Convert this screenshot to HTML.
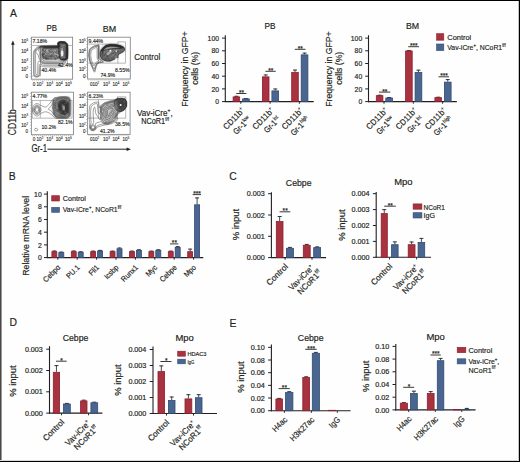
<!DOCTYPE html>
<html><head><meta charset="utf-8"><style>
html,body{margin:0;padding:0;background:#fff;}
svg{display:block;font-family:"Liberation Sans",sans-serif;}
</style></head><body>
<svg width="520" height="462" viewBox="0 0 520 462">
<rect x="0" y="0" width="520" height="462" fill="#fefefe"/>
<defs>
<filter id="b1" x="-20%" y="-20%" width="140%" height="140%"><feGaussianBlur stdDeviation="0.7"/></filter>
<filter id="b2" x="-20%" y="-20%" width="140%" height="140%"><feGaussianBlur stdDeviation="1.2"/></filter>
<filter id="b3" x="-20%" y="-20%" width="140%" height="140%"><feGaussianBlur stdDeviation="0.35"/></filter>
</defs>
<text transform="translate(10.00,17.10) translate(0.00,0) scale(0.8800,1)" font-size="11.80" fill="#231f20" stroke="#231f20" stroke-width="0.18"><tspan>A</tspan></text>
<text transform="translate(8.80,179.50) translate(0.00,0) scale(0.8800,1)" font-size="11.80" fill="#231f20" stroke="#231f20" stroke-width="0.18"><tspan>B</tspan></text>
<text transform="translate(229.20,180.30) translate(0.00,0) scale(0.8800,1)" font-size="11.80" fill="#231f20" stroke="#231f20" stroke-width="0.18"><tspan>C</tspan></text>
<text transform="translate(9.50,326.30) translate(0.00,0) scale(0.8800,1)" font-size="11.80" fill="#231f20" stroke="#231f20" stroke-width="0.18"><tspan>D</tspan></text>
<text transform="translate(229.50,326.60) translate(0.00,0) scale(0.8800,1)" font-size="11.80" fill="#231f20" stroke="#231f20" stroke-width="0.18"><tspan>E</tspan></text>
<line x1="225.30" y1="35.20" x2="225.30" y2="102.10" stroke="#231f20" stroke-width="1.1"/>
<line x1="222.00" y1="101.60" x2="225.30" y2="101.60" stroke="#231f20" stroke-width="1.0"/>
<text transform="translate(219.00,104.20) translate(-3.80,0) scale(0.9500,1)" font-size="7.20" fill="#231f20" stroke="#231f20" stroke-width="0.18"><tspan>0</tspan></text>
<line x1="222.00" y1="88.90" x2="225.30" y2="88.90" stroke="#231f20" stroke-width="1.0"/>
<text transform="translate(219.00,91.50) translate(-7.61,0) scale(0.9500,1)" font-size="7.20" fill="#231f20" stroke="#231f20" stroke-width="0.18"><tspan>20</tspan></text>
<line x1="222.00" y1="76.20" x2="225.30" y2="76.20" stroke="#231f20" stroke-width="1.0"/>
<text transform="translate(219.00,78.80) translate(-7.61,0) scale(0.9500,1)" font-size="7.20" fill="#231f20" stroke="#231f20" stroke-width="0.18"><tspan>40</tspan></text>
<line x1="222.00" y1="63.50" x2="225.30" y2="63.50" stroke="#231f20" stroke-width="1.0"/>
<text transform="translate(219.00,66.10) translate(-7.61,0) scale(0.9500,1)" font-size="7.20" fill="#231f20" stroke="#231f20" stroke-width="0.18"><tspan>60</tspan></text>
<line x1="222.00" y1="50.80" x2="225.30" y2="50.80" stroke="#231f20" stroke-width="1.0"/>
<text transform="translate(219.00,53.40) translate(-7.61,0) scale(0.9500,1)" font-size="7.20" fill="#231f20" stroke="#231f20" stroke-width="0.18"><tspan>80</tspan></text>
<line x1="222.00" y1="38.10" x2="225.30" y2="38.10" stroke="#231f20" stroke-width="1.0"/>
<text transform="translate(219.00,40.70) translate(-11.41,0) scale(0.9500,1)" font-size="7.20" fill="#231f20" stroke="#231f20" stroke-width="0.18"><tspan>100</tspan></text>
<line x1="224.80" y1="101.60" x2="313.70" y2="101.60" stroke="#231f20" stroke-width="1.1"/>
<line x1="240.80" y1="101.60" x2="240.80" y2="103.80" stroke="#231f20" stroke-width="0.9"/>
<line x1="270.10" y1="101.60" x2="270.10" y2="103.80" stroke="#231f20" stroke-width="0.9"/>
<line x1="299.40" y1="101.60" x2="299.40" y2="103.80" stroke="#231f20" stroke-width="0.9"/>
<line x1="236.40" y1="96.52" x2="236.40" y2="95.88" stroke="#333" stroke-width="0.9"/>
<line x1="234.40" y1="96.28" x2="238.40" y2="96.28" stroke="#333" stroke-width="1.0"/>
<rect x="233.10" y="96.92" width="6.60" height="4.68" fill="#a8323f" stroke="#8c1f2e" stroke-width="0.8"/>
<line x1="245.95" y1="98.49" x2="245.95" y2="98.17" stroke="#333" stroke-width="0.9"/>
<line x1="243.95" y1="98.57" x2="247.95" y2="98.57" stroke="#333" stroke-width="1.0"/>
<rect x="242.60" y="98.89" width="6.70" height="2.71" fill="#4a6690" stroke="#2f4a72" stroke-width="0.8"/>
<line x1="265.70" y1="76.45" x2="265.70" y2="74.55" stroke="#333" stroke-width="0.9"/>
<line x1="263.70" y1="74.95" x2="267.70" y2="74.95" stroke="#333" stroke-width="1.0"/>
<rect x="262.40" y="76.85" width="6.60" height="24.75" fill="#a8323f" stroke="#8c1f2e" stroke-width="0.8"/>
<line x1="275.25" y1="90.49" x2="275.25" y2="88.58" stroke="#333" stroke-width="0.9"/>
<line x1="273.25" y1="88.98" x2="277.25" y2="88.98" stroke="#333" stroke-width="1.0"/>
<rect x="271.90" y="90.89" width="6.70" height="10.71" fill="#4a6690" stroke="#2f4a72" stroke-width="0.8"/>
<line x1="295.00" y1="71.95" x2="295.00" y2="69.66" stroke="#333" stroke-width="0.9"/>
<line x1="293.00" y1="70.06" x2="297.00" y2="70.06" stroke="#333" stroke-width="1.0"/>
<rect x="291.70" y="72.35" width="6.60" height="29.25" fill="#a8323f" stroke="#8c1f2e" stroke-width="0.8"/>
<line x1="304.55" y1="54.48" x2="304.55" y2="52.71" stroke="#333" stroke-width="0.9"/>
<line x1="302.55" y1="53.11" x2="306.55" y2="53.11" stroke="#333" stroke-width="1.0"/>
<rect x="301.20" y="54.88" width="6.70" height="46.72" fill="#4a6690" stroke="#2f4a72" stroke-width="0.8"/>
<line x1="236.30" y1="93.50" x2="246.40" y2="93.50" stroke="#222" stroke-width="0.9"/>
<text transform="translate(241.55,94.90) translate(-2.53,0)" font-size="6.50" fill="#231f20" stroke="#231f20" stroke-width="0.18"><tspan>**</tspan></text>
<line x1="265.40" y1="71.30" x2="275.70" y2="71.30" stroke="#222" stroke-width="0.9"/>
<text transform="translate(270.75,72.70) translate(-2.53,0)" font-size="6.50" fill="#231f20" stroke="#231f20" stroke-width="0.18"><tspan>**</tspan></text>
<line x1="294.80" y1="49.30" x2="305.50" y2="49.30" stroke="#222" stroke-width="0.9"/>
<text transform="translate(300.35,50.70) translate(-2.53,0)" font-size="6.50" fill="#231f20" stroke="#231f20" stroke-width="0.18"><tspan>**</tspan></text>
<text transform="translate(270.00,29.40) translate(-5.52,0) scale(0.9200,1)" font-size="9.00" fill="#231f20" stroke="#231f20" stroke-width="0.18"><tspan>PB</tspan></text>
<text transform="translate(245.20,111.20) rotate(-45) translate(-26.57,0) scale(0.9300,1)" font-size="8.40" fill="#231f20" stroke="#231f20" stroke-width="0.18"><tspan>CD11b</tspan><tspan font-size="5.21" dy="-3.53">+</tspan></text>
<text transform="translate(251.50,120.00) rotate(-45) translate(-21.17,0) scale(0.8600,1)" font-size="8.40" fill="#231f20" stroke="#231f20" stroke-width="0.18"><tspan>Gr-1</tspan><tspan font-size="5.21" dy="-3.53">low</tspan></text>
<text transform="translate(274.50,111.20) rotate(-45) translate(-26.57,0) scale(0.9300,1)" font-size="8.40" fill="#231f20" stroke="#231f20" stroke-width="0.18"><tspan>CD11b</tspan><tspan font-size="5.21" dy="-3.53">+</tspan></text>
<text transform="translate(280.80,120.00) rotate(-45) translate(-19.18,0) scale(0.8600,1)" font-size="8.40" fill="#231f20" stroke="#231f20" stroke-width="0.18"><tspan>Gr-1</tspan><tspan font-size="5.21" dy="-3.53">int</tspan></text>
<text transform="translate(303.80,111.20) rotate(-45) translate(-26.57,0) scale(0.9300,1)" font-size="8.40" fill="#231f20" stroke="#231f20" stroke-width="0.18"><tspan>CD11b</tspan><tspan font-size="5.21" dy="-3.53">+</tspan></text>
<text transform="translate(310.10,120.00) rotate(-45) translate(-22.91,0) scale(0.8600,1)" font-size="8.40" fill="#231f20" stroke="#231f20" stroke-width="0.18"><tspan>Gr-1</tspan><tspan font-size="5.21" dy="-3.53">high</tspan></text>
<line x1="368.50" y1="35.20" x2="368.50" y2="102.10" stroke="#231f20" stroke-width="1.1"/>
<line x1="365.20" y1="101.60" x2="368.50" y2="101.60" stroke="#231f20" stroke-width="1.0"/>
<text transform="translate(362.20,104.20) translate(-3.80,0) scale(0.9500,1)" font-size="7.20" fill="#231f20" stroke="#231f20" stroke-width="0.18"><tspan>0</tspan></text>
<line x1="365.20" y1="88.90" x2="368.50" y2="88.90" stroke="#231f20" stroke-width="1.0"/>
<text transform="translate(362.20,91.50) translate(-7.61,0) scale(0.9500,1)" font-size="7.20" fill="#231f20" stroke="#231f20" stroke-width="0.18"><tspan>20</tspan></text>
<line x1="365.20" y1="76.20" x2="368.50" y2="76.20" stroke="#231f20" stroke-width="1.0"/>
<text transform="translate(362.20,78.80) translate(-7.61,0) scale(0.9500,1)" font-size="7.20" fill="#231f20" stroke="#231f20" stroke-width="0.18"><tspan>40</tspan></text>
<line x1="365.20" y1="63.50" x2="368.50" y2="63.50" stroke="#231f20" stroke-width="1.0"/>
<text transform="translate(362.20,66.10) translate(-7.61,0) scale(0.9500,1)" font-size="7.20" fill="#231f20" stroke="#231f20" stroke-width="0.18"><tspan>60</tspan></text>
<line x1="365.20" y1="50.80" x2="368.50" y2="50.80" stroke="#231f20" stroke-width="1.0"/>
<text transform="translate(362.20,53.40) translate(-7.61,0) scale(0.9500,1)" font-size="7.20" fill="#231f20" stroke="#231f20" stroke-width="0.18"><tspan>80</tspan></text>
<line x1="365.20" y1="38.10" x2="368.50" y2="38.10" stroke="#231f20" stroke-width="1.0"/>
<text transform="translate(362.20,40.70) translate(-11.41,0) scale(0.9500,1)" font-size="7.20" fill="#231f20" stroke="#231f20" stroke-width="0.18"><tspan>100</tspan></text>
<line x1="368.00" y1="101.60" x2="456.90" y2="101.60" stroke="#231f20" stroke-width="1.1"/>
<line x1="384.00" y1="101.60" x2="384.00" y2="103.80" stroke="#231f20" stroke-width="0.9"/>
<line x1="413.30" y1="101.60" x2="413.30" y2="103.80" stroke="#231f20" stroke-width="0.9"/>
<line x1="442.60" y1="101.60" x2="442.60" y2="103.80" stroke="#231f20" stroke-width="0.9"/>
<line x1="379.60" y1="95.25" x2="379.60" y2="94.81" stroke="#333" stroke-width="0.9"/>
<line x1="377.60" y1="95.21" x2="381.60" y2="95.21" stroke="#333" stroke-width="1.0"/>
<rect x="376.30" y="95.65" width="6.60" height="5.95" fill="#a8323f" stroke="#8c1f2e" stroke-width="0.8"/>
<line x1="389.15" y1="97.60" x2="389.15" y2="97.09" stroke="#333" stroke-width="0.9"/>
<line x1="387.15" y1="97.49" x2="391.15" y2="97.49" stroke="#333" stroke-width="1.0"/>
<rect x="385.80" y="98.00" width="6.70" height="3.60" fill="#4a6690" stroke="#2f4a72" stroke-width="0.8"/>
<line x1="408.90" y1="50.55" x2="408.90" y2="50.23" stroke="#333" stroke-width="0.9"/>
<line x1="406.90" y1="50.63" x2="410.90" y2="50.63" stroke="#333" stroke-width="1.0"/>
<rect x="405.60" y="50.95" width="6.60" height="50.65" fill="#a8323f" stroke="#8c1f2e" stroke-width="0.8"/>
<line x1="418.45" y1="72.01" x2="418.45" y2="69.79" stroke="#333" stroke-width="0.9"/>
<line x1="416.45" y1="70.19" x2="420.45" y2="70.19" stroke="#333" stroke-width="1.0"/>
<rect x="415.10" y="72.41" width="6.70" height="29.19" fill="#4a6690" stroke="#2f4a72" stroke-width="0.8"/>
<line x1="438.20" y1="97.22" x2="438.20" y2="96.84" stroke="#333" stroke-width="0.9"/>
<line x1="436.20" y1="97.24" x2="440.20" y2="97.24" stroke="#333" stroke-width="1.0"/>
<rect x="434.90" y="97.62" width="6.60" height="3.98" fill="#a8323f" stroke="#8c1f2e" stroke-width="0.8"/>
<line x1="447.75" y1="81.72" x2="447.75" y2="79.18" stroke="#333" stroke-width="0.9"/>
<line x1="445.75" y1="79.58" x2="449.75" y2="79.58" stroke="#333" stroke-width="1.0"/>
<rect x="444.40" y="82.12" width="6.70" height="19.48" fill="#4a6690" stroke="#2f4a72" stroke-width="0.8"/>
<line x1="379.00" y1="92.10" x2="390.30" y2="92.10" stroke="#222" stroke-width="0.9"/>
<text transform="translate(384.85,93.50) translate(-2.53,0)" font-size="6.50" fill="#231f20" stroke="#231f20" stroke-width="0.18"><tspan>**</tspan></text>
<line x1="408.20" y1="46.70" x2="419.00" y2="46.70" stroke="#222" stroke-width="0.9"/>
<text transform="translate(413.80,48.10) translate(-3.79,0)" font-size="6.50" fill="#231f20" stroke="#231f20" stroke-width="0.18"><tspan>***</tspan></text>
<line x1="438.50" y1="76.80" x2="449.00" y2="76.80" stroke="#222" stroke-width="0.9"/>
<text transform="translate(443.95,78.20) translate(-3.79,0)" font-size="6.50" fill="#231f20" stroke="#231f20" stroke-width="0.18"><tspan>***</tspan></text>
<text transform="translate(412.50,29.40) translate(-6.60,0) scale(0.9778,1)" font-size="9.00" fill="#231f20" stroke="#231f20" stroke-width="0.18"><tspan>BM</tspan></text>
<text transform="translate(388.40,111.20) rotate(-45) translate(-26.57,0) scale(0.9300,1)" font-size="8.40" fill="#231f20" stroke="#231f20" stroke-width="0.18"><tspan>CD11b</tspan><tspan font-size="5.21" dy="-3.53">+</tspan></text>
<text transform="translate(394.70,120.00) rotate(-45) translate(-21.17,0) scale(0.8600,1)" font-size="8.40" fill="#231f20" stroke="#231f20" stroke-width="0.18"><tspan>Gr-1</tspan><tspan font-size="5.21" dy="-3.53">low</tspan></text>
<text transform="translate(417.70,111.20) rotate(-45) translate(-26.57,0) scale(0.9300,1)" font-size="8.40" fill="#231f20" stroke="#231f20" stroke-width="0.18"><tspan>CD11b</tspan><tspan font-size="5.21" dy="-3.53">+</tspan></text>
<text transform="translate(424.00,120.00) rotate(-45) translate(-19.18,0) scale(0.8600,1)" font-size="8.40" fill="#231f20" stroke="#231f20" stroke-width="0.18"><tspan>Gr-1</tspan><tspan font-size="5.21" dy="-3.53">int</tspan></text>
<text transform="translate(447.00,111.20) rotate(-45) translate(-26.57,0) scale(0.9300,1)" font-size="8.40" fill="#231f20" stroke="#231f20" stroke-width="0.18"><tspan>CD11b</tspan><tspan font-size="5.21" dy="-3.53">+</tspan></text>
<text transform="translate(453.30,120.00) rotate(-45) translate(-22.91,0) scale(0.8600,1)" font-size="8.40" fill="#231f20" stroke="#231f20" stroke-width="0.18"><tspan>Gr-1</tspan><tspan font-size="5.21" dy="-3.53">high</tspan></text>
<text transform="translate(187.90,69.00) rotate(-90) translate(-37.75,0) scale(0.9137,1)" font-size="9.50" fill="#231f20" stroke="#231f20" stroke-width="0.18"><tspan>Frequency in GFP+</tspan></text>
<text transform="translate(198.30,68.30) rotate(-90) translate(-16.50,0) scale(0.9062,1)" font-size="9.50" fill="#231f20" stroke="#231f20" stroke-width="0.18"><tspan>cells (%)</tspan></text>
<text transform="translate(331.60,69.00) rotate(-90) translate(-37.75,0) scale(0.9137,1)" font-size="9.50" fill="#231f20" stroke="#231f20" stroke-width="0.18"><tspan>Frequency in GFP+</tspan></text>
<text transform="translate(342.20,68.30) rotate(-90) translate(-16.50,0) scale(0.9062,1)" font-size="9.50" fill="#231f20" stroke="#231f20" stroke-width="0.18"><tspan>cells (%)</tspan></text>
<rect x="436.60" y="33.70" width="7.20" height="6.50" fill="#a8323f" stroke="#8c1f2e" stroke-width="0.6"/>
<rect x="436.60" y="44.00" width="7.20" height="6.60" fill="#4a6690" stroke="#2f4a72" stroke-width="0.6"/>
<text transform="translate(447.30,39.80) translate(0.00,0) scale(0.9307,1)" font-size="8.00" fill="#231f20" stroke="#231f20" stroke-width="0.18"><tspan>Control</tspan></text>
<text transform="translate(447.30,50.20) translate(0.00,0) scale(0.8574,1)" font-size="8.00" fill="#231f20" stroke="#231f20" stroke-width="0.18"><tspan>Vav-iCre</tspan><tspan font-size="4.96" dy="-3.36">+</tspan><tspan dy="3.36">, NCoR1</tspan><tspan font-size="4.96" dy="-3.36">f/f</tspan></text>
<line x1="47.30" y1="191.20" x2="47.30" y2="258.10" stroke="#231f20" stroke-width="1.1"/>
<line x1="44.00" y1="257.60" x2="47.30" y2="257.60" stroke="#231f20" stroke-width="1.0"/>
<text transform="translate(41.70,260.20) translate(-3.80,0) scale(0.9500,1)" font-size="7.20" fill="#231f20" stroke="#231f20" stroke-width="0.18"><tspan>0</tspan></text>
<line x1="44.00" y1="244.90" x2="47.30" y2="244.90" stroke="#231f20" stroke-width="1.0"/>
<text transform="translate(41.70,247.50) translate(-3.80,0) scale(0.9500,1)" font-size="7.20" fill="#231f20" stroke="#231f20" stroke-width="0.18"><tspan>2</tspan></text>
<line x1="44.00" y1="232.20" x2="47.30" y2="232.20" stroke="#231f20" stroke-width="1.0"/>
<text transform="translate(41.70,234.80) translate(-3.80,0) scale(0.9500,1)" font-size="7.20" fill="#231f20" stroke="#231f20" stroke-width="0.18"><tspan>4</tspan></text>
<line x1="44.00" y1="219.50" x2="47.30" y2="219.50" stroke="#231f20" stroke-width="1.0"/>
<text transform="translate(41.70,222.10) translate(-3.80,0) scale(0.9500,1)" font-size="7.20" fill="#231f20" stroke="#231f20" stroke-width="0.18"><tspan>6</tspan></text>
<line x1="44.00" y1="206.80" x2="47.30" y2="206.80" stroke="#231f20" stroke-width="1.0"/>
<text transform="translate(41.70,209.40) translate(-3.80,0) scale(0.9500,1)" font-size="7.20" fill="#231f20" stroke="#231f20" stroke-width="0.18"><tspan>8</tspan></text>
<line x1="44.00" y1="194.10" x2="47.30" y2="194.10" stroke="#231f20" stroke-width="1.0"/>
<text transform="translate(41.70,196.70) translate(-7.61,0) scale(0.9500,1)" font-size="7.20" fill="#231f20" stroke="#231f20" stroke-width="0.18"><tspan>10</tspan></text>
<line x1="46.80" y1="257.60" x2="203.30" y2="257.60" stroke="#231f20" stroke-width="1.1"/>
<line x1="57.80" y1="257.60" x2="57.80" y2="259.80" stroke="#231f20" stroke-width="0.9"/>
<line x1="77.20" y1="257.60" x2="77.20" y2="259.80" stroke="#231f20" stroke-width="0.9"/>
<line x1="96.60" y1="257.60" x2="96.60" y2="259.80" stroke="#231f20" stroke-width="0.9"/>
<line x1="116.00" y1="257.60" x2="116.00" y2="259.80" stroke="#231f20" stroke-width="0.9"/>
<line x1="135.40" y1="257.60" x2="135.40" y2="259.80" stroke="#231f20" stroke-width="0.9"/>
<line x1="154.80" y1="257.60" x2="154.80" y2="259.80" stroke="#231f20" stroke-width="0.9"/>
<line x1="174.20" y1="257.60" x2="174.20" y2="259.80" stroke="#231f20" stroke-width="0.9"/>
<line x1="193.60" y1="257.60" x2="193.60" y2="259.80" stroke="#231f20" stroke-width="0.9"/>
<line x1="54.35" y1="251.25" x2="54.35" y2="250.62" stroke="#333" stroke-width="0.9"/>
<line x1="52.35" y1="251.02" x2="56.35" y2="251.02" stroke="#333" stroke-width="1.0"/>
<rect x="51.90" y="251.65" width="4.90" height="5.95" fill="#a8323f" stroke="#8c1f2e" stroke-width="0.8"/>
<line x1="61.30" y1="252.20" x2="61.30" y2="251.69" stroke="#333" stroke-width="0.9"/>
<line x1="59.30" y1="252.09" x2="63.30" y2="252.09" stroke="#333" stroke-width="1.0"/>
<rect x="58.80" y="252.60" width="5.00" height="5.00" fill="#4a6690" stroke="#2f4a72" stroke-width="0.8"/>
<line x1="73.75" y1="251.25" x2="73.75" y2="250.62" stroke="#333" stroke-width="0.9"/>
<line x1="71.75" y1="251.02" x2="75.75" y2="251.02" stroke="#333" stroke-width="1.0"/>
<rect x="71.30" y="251.65" width="4.90" height="5.95" fill="#a8323f" stroke="#8c1f2e" stroke-width="0.8"/>
<line x1="80.70" y1="251.89" x2="80.70" y2="251.38" stroke="#333" stroke-width="0.9"/>
<line x1="78.70" y1="251.78" x2="82.70" y2="251.78" stroke="#333" stroke-width="1.0"/>
<rect x="78.20" y="252.29" width="5.00" height="5.32" fill="#4a6690" stroke="#2f4a72" stroke-width="0.8"/>
<line x1="93.15" y1="251.25" x2="93.15" y2="250.74" stroke="#333" stroke-width="0.9"/>
<line x1="91.15" y1="251.14" x2="95.15" y2="251.14" stroke="#333" stroke-width="1.0"/>
<rect x="90.70" y="251.65" width="4.90" height="5.95" fill="#a8323f" stroke="#8c1f2e" stroke-width="0.8"/>
<line x1="100.10" y1="250.62" x2="100.10" y2="249.98" stroke="#333" stroke-width="0.9"/>
<line x1="98.10" y1="250.38" x2="102.10" y2="250.38" stroke="#333" stroke-width="1.0"/>
<rect x="97.60" y="251.02" width="5.00" height="6.59" fill="#4a6690" stroke="#2f4a72" stroke-width="0.8"/>
<line x1="112.55" y1="251.25" x2="112.55" y2="250.74" stroke="#333" stroke-width="0.9"/>
<line x1="110.55" y1="251.14" x2="114.55" y2="251.14" stroke="#333" stroke-width="1.0"/>
<rect x="110.10" y="251.65" width="4.90" height="5.95" fill="#a8323f" stroke="#8c1f2e" stroke-width="0.8"/>
<line x1="119.50" y1="248.39" x2="119.50" y2="247.63" stroke="#333" stroke-width="0.9"/>
<line x1="117.50" y1="248.03" x2="121.50" y2="248.03" stroke="#333" stroke-width="1.0"/>
<rect x="117.00" y="248.79" width="5.00" height="8.81" fill="#4a6690" stroke="#2f4a72" stroke-width="0.8"/>
<line x1="131.95" y1="251.25" x2="131.95" y2="250.74" stroke="#333" stroke-width="0.9"/>
<line x1="129.95" y1="251.14" x2="133.95" y2="251.14" stroke="#333" stroke-width="1.0"/>
<rect x="129.50" y="251.65" width="4.90" height="5.95" fill="#a8323f" stroke="#8c1f2e" stroke-width="0.8"/>
<line x1="138.90" y1="249.98" x2="138.90" y2="249.35" stroke="#333" stroke-width="0.9"/>
<line x1="136.90" y1="249.75" x2="140.90" y2="249.75" stroke="#333" stroke-width="1.0"/>
<rect x="136.40" y="250.38" width="5.00" height="7.22" fill="#4a6690" stroke="#2f4a72" stroke-width="0.8"/>
<line x1="151.35" y1="251.25" x2="151.35" y2="250.74" stroke="#333" stroke-width="0.9"/>
<line x1="149.35" y1="251.14" x2="153.35" y2="251.14" stroke="#333" stroke-width="1.0"/>
<rect x="148.90" y="251.65" width="4.90" height="5.95" fill="#a8323f" stroke="#8c1f2e" stroke-width="0.8"/>
<line x1="158.30" y1="249.98" x2="158.30" y2="249.35" stroke="#333" stroke-width="0.9"/>
<line x1="156.30" y1="249.75" x2="160.30" y2="249.75" stroke="#333" stroke-width="1.0"/>
<rect x="155.80" y="250.38" width="5.00" height="7.22" fill="#4a6690" stroke="#2f4a72" stroke-width="0.8"/>
<line x1="170.75" y1="251.25" x2="170.75" y2="250.74" stroke="#333" stroke-width="0.9"/>
<line x1="168.75" y1="251.14" x2="172.75" y2="251.14" stroke="#333" stroke-width="1.0"/>
<rect x="168.30" y="251.65" width="4.90" height="5.95" fill="#a8323f" stroke="#8c1f2e" stroke-width="0.8"/>
<line x1="177.70" y1="247.00" x2="177.70" y2="246.23" stroke="#333" stroke-width="0.9"/>
<line x1="175.70" y1="246.63" x2="179.70" y2="246.63" stroke="#333" stroke-width="1.0"/>
<rect x="175.20" y="247.40" width="5.00" height="10.20" fill="#4a6690" stroke="#2f4a72" stroke-width="0.8"/>
<line x1="190.15" y1="251.25" x2="190.15" y2="248.71" stroke="#333" stroke-width="0.9"/>
<line x1="188.15" y1="249.11" x2="192.15" y2="249.11" stroke="#333" stroke-width="1.0"/>
<rect x="187.70" y="251.65" width="4.90" height="5.95" fill="#a8323f" stroke="#8c1f2e" stroke-width="0.8"/>
<line x1="197.10" y1="204.39" x2="197.10" y2="197.53" stroke="#333" stroke-width="0.9"/>
<line x1="195.10" y1="197.93" x2="199.10" y2="197.93" stroke="#333" stroke-width="1.0"/>
<rect x="194.60" y="204.79" width="5.00" height="52.81" fill="#4a6690" stroke="#2f4a72" stroke-width="0.8"/>
<line x1="170.00" y1="243.90" x2="178.40" y2="243.90" stroke="#222" stroke-width="0.9"/>
<text transform="translate(174.40,245.30) translate(-2.53,0)" font-size="6.50" fill="#231f20" stroke="#231f20" stroke-width="0.18"><tspan>**</tspan></text>
<line x1="192.70" y1="194.60" x2="201.00" y2="194.60" stroke="#222" stroke-width="0.9"/>
<text transform="translate(197.05,196.00) translate(-3.79,0)" font-size="6.50" fill="#231f20" stroke="#231f20" stroke-width="0.18"><tspan>***</tspan></text>
<text transform="translate(29.00,235.80) rotate(-90) translate(-40.00,0) scale(0.9541,1)" font-size="9.20" fill="#231f20" stroke="#231f20" stroke-width="0.18"><tspan>Relative mRNA level</tspan></text>
<rect x="51.70" y="195.70" width="7.80" height="5.30" fill="#a8323f" stroke="#8c1f2e" stroke-width="0.6"/>
<rect x="51.70" y="207.40" width="7.80" height="4.90" fill="#4a6690" stroke="#2f4a72" stroke-width="0.6"/>
<text transform="translate(62.80,201.00) translate(0.00,0) scale(0.8997,1)" font-size="8.00" fill="#231f20" stroke="#231f20" stroke-width="0.18"><tspan>Control</tspan></text>
<text transform="translate(62.80,212.40) translate(0.00,0) scale(0.8574,1)" font-size="8.00" fill="#231f20" stroke="#231f20" stroke-width="0.18"><tspan>Vav-iCre</tspan><tspan font-size="4.96" dy="-3.36">+</tspan><tspan dy="3.36">, NCoR1</tspan><tspan font-size="4.96" dy="-3.36">f/f</tspan></text>
<text transform="translate(60.80,268.00) rotate(-45) translate(-20.76,0) scale(0.9200,1)" font-size="7.60" fill="#231f20" stroke="#231f20" stroke-width="0.18"><tspan>Cebpα</tspan></text>
<text transform="translate(80.20,268.00) rotate(-45) translate(-15.54,0) scale(0.9200,1)" font-size="7.60" fill="#231f20" stroke="#231f20" stroke-width="0.18"><tspan>PU.1</tspan></text>
<text transform="translate(99.60,268.00) rotate(-45) translate(-11.27,0) scale(0.9200,1)" font-size="7.60" fill="#231f20" stroke="#231f20" stroke-width="0.18"><tspan>Fli1</tspan></text>
<text transform="translate(119.00,268.00) rotate(-45) translate(-16.71,0) scale(0.9200,1)" font-size="7.60" fill="#231f20" stroke="#231f20" stroke-width="0.18"><tspan>Icsbp</tspan></text>
<text transform="translate(138.40,268.00) rotate(-45) translate(-20.21,0) scale(0.9200,1)" font-size="7.60" fill="#231f20" stroke="#231f20" stroke-width="0.18"><tspan>Runx1</tspan></text>
<text transform="translate(157.80,268.00) rotate(-45) translate(-12.82,0) scale(0.9200,1)" font-size="7.60" fill="#231f20" stroke="#231f20" stroke-width="0.18"><tspan>Myc</tspan></text>
<text transform="translate(177.20,268.00) rotate(-45) translate(-20.60,0) scale(0.9200,1)" font-size="7.60" fill="#231f20" stroke="#231f20" stroke-width="0.18"><tspan>Cebpe</tspan></text>
<text transform="translate(196.60,268.00) rotate(-45) translate(-13.60,0) scale(0.9200,1)" font-size="7.60" fill="#231f20" stroke="#231f20" stroke-width="0.18"><tspan>Mpo</tspan></text>
<line x1="271.40" y1="192.30" x2="271.40" y2="258.10" stroke="#231f20" stroke-width="1.1"/>
<line x1="268.10" y1="257.60" x2="271.40" y2="257.60" stroke="#231f20" stroke-width="1.0"/>
<text transform="translate(264.80,260.20) translate(-18.02,0)" font-size="7.20" fill="#231f20" stroke="#231f20" stroke-width="0.18"><tspan>0.000</tspan></text>
<line x1="268.10" y1="236.30" x2="271.40" y2="236.30" stroke="#231f20" stroke-width="1.0"/>
<text transform="translate(264.80,238.90) translate(-18.02,0)" font-size="7.20" fill="#231f20" stroke="#231f20" stroke-width="0.18"><tspan>0.001</tspan></text>
<line x1="268.10" y1="215.00" x2="271.40" y2="215.00" stroke="#231f20" stroke-width="1.0"/>
<text transform="translate(264.80,217.60) translate(-18.02,0)" font-size="7.20" fill="#231f20" stroke="#231f20" stroke-width="0.18"><tspan>0.002</tspan></text>
<line x1="268.10" y1="193.70" x2="271.40" y2="193.70" stroke="#231f20" stroke-width="1.0"/>
<text transform="translate(264.80,196.30) translate(-18.02,0)" font-size="7.20" fill="#231f20" stroke="#231f20" stroke-width="0.18"><tspan>0.003</tspan></text>
<line x1="270.90" y1="257.60" x2="326.10" y2="257.60" stroke="#231f20" stroke-width="1.1"/>
<line x1="285.10" y1="257.60" x2="285.10" y2="259.80" stroke="#231f20" stroke-width="0.9"/>
<line x1="312.00" y1="257.60" x2="312.00" y2="259.80" stroke="#231f20" stroke-width="0.9"/>
<line x1="279.65" y1="221.10" x2="279.65" y2="216.10" stroke="#333" stroke-width="0.9"/>
<line x1="277.65" y1="216.50" x2="281.65" y2="216.50" stroke="#333" stroke-width="1.0"/>
<rect x="276.30" y="221.50" width="6.70" height="36.10" fill="#a8323f" stroke="#8c1f2e" stroke-width="0.8"/>
<line x1="289.90" y1="247.90" x2="289.90" y2="247.00" stroke="#333" stroke-width="0.9"/>
<line x1="287.90" y1="247.40" x2="291.90" y2="247.40" stroke="#333" stroke-width="1.0"/>
<rect x="286.40" y="248.30" width="7.00" height="9.30" fill="#4a6690" stroke="#2f4a72" stroke-width="0.8"/>
<line x1="306.75" y1="244.90" x2="306.75" y2="244.00" stroke="#333" stroke-width="0.9"/>
<line x1="304.75" y1="244.40" x2="308.75" y2="244.40" stroke="#333" stroke-width="1.0"/>
<rect x="303.30" y="245.30" width="6.90" height="12.30" fill="#a8323f" stroke="#8c1f2e" stroke-width="0.8"/>
<line x1="317.15" y1="247.20" x2="317.15" y2="246.50" stroke="#333" stroke-width="0.9"/>
<line x1="315.15" y1="246.90" x2="319.15" y2="246.90" stroke="#333" stroke-width="1.0"/>
<rect x="313.70" y="247.60" width="6.90" height="10.00" fill="#4a6690" stroke="#2f4a72" stroke-width="0.8"/>
<line x1="279.60" y1="211.80" x2="290.30" y2="211.80" stroke="#222" stroke-width="0.9"/>
<text transform="translate(285.15,213.20) translate(-2.53,0)" font-size="6.50" fill="#231f20" stroke="#231f20" stroke-width="0.18"><tspan>**</tspan></text>
<text transform="translate(298.70,185.60) translate(-12.86,0) scale(0.9700,1)" font-size="9.00" fill="#231f20" stroke="#231f20" stroke-width="0.18"><tspan>Cebpe</tspan></text>
<text transform="translate(238.80,224.50) rotate(-90) translate(-15.75,0) scale(1.0155,1)" font-size="9.30" fill="#231f20" stroke="#231f20" stroke-width="0.18"><tspan>% input</tspan></text>
<text transform="translate(288.50,267.20) rotate(-45) translate(-26.54,0) scale(0.9800,1)" font-size="8.40" fill="#231f20" stroke="#231f20" stroke-width="0.18"><tspan>Control</tspan></text>
<text transform="translate(314.40,268.50) rotate(-45) translate(-31.58,0) scale(0.9000,1)" font-size="8.40" fill="#231f20" stroke="#231f20" stroke-width="0.18"><tspan>Vav-iCre</tspan><tspan font-size="5.21" dy="-3.53">+</tspan></text>
<text transform="translate(322.20,273.50) rotate(-45) translate(-30.29,0) scale(0.9500,1)" font-size="8.40" fill="#231f20" stroke="#231f20" stroke-width="0.18"><tspan>NCoR1</tspan><tspan font-size="5.21" dy="-3.53">f/f</tspan></text>
<line x1="376.20" y1="191.90" x2="376.20" y2="257.80" stroke="#231f20" stroke-width="1.1"/>
<line x1="372.90" y1="257.30" x2="376.20" y2="257.30" stroke="#231f20" stroke-width="1.0"/>
<text transform="translate(369.60,259.90) translate(-18.02,0)" font-size="7.20" fill="#231f20" stroke="#231f20" stroke-width="0.18"><tspan>0.000</tspan></text>
<line x1="372.90" y1="241.40" x2="376.20" y2="241.40" stroke="#231f20" stroke-width="1.0"/>
<text transform="translate(369.60,244.00) translate(-18.02,0)" font-size="7.20" fill="#231f20" stroke="#231f20" stroke-width="0.18"><tspan>0.001</tspan></text>
<line x1="372.90" y1="225.50" x2="376.20" y2="225.50" stroke="#231f20" stroke-width="1.0"/>
<text transform="translate(369.60,228.10) translate(-18.02,0)" font-size="7.20" fill="#231f20" stroke="#231f20" stroke-width="0.18"><tspan>0.002</tspan></text>
<line x1="372.90" y1="209.60" x2="376.20" y2="209.60" stroke="#231f20" stroke-width="1.0"/>
<text transform="translate(369.60,212.20) translate(-18.02,0)" font-size="7.20" fill="#231f20" stroke="#231f20" stroke-width="0.18"><tspan>0.003</tspan></text>
<line x1="372.90" y1="193.70" x2="376.20" y2="193.70" stroke="#231f20" stroke-width="1.0"/>
<text transform="translate(369.60,196.30) translate(-18.02,0)" font-size="7.20" fill="#231f20" stroke="#231f20" stroke-width="0.18"><tspan>0.004</tspan></text>
<line x1="375.70" y1="257.30" x2="431.00" y2="257.30" stroke="#231f20" stroke-width="1.1"/>
<line x1="389.50" y1="257.30" x2="389.50" y2="259.50" stroke="#231f20" stroke-width="0.9"/>
<line x1="416.60" y1="257.30" x2="416.60" y2="259.50" stroke="#231f20" stroke-width="0.9"/>
<line x1="384.25" y1="213.20" x2="384.25" y2="209.20" stroke="#333" stroke-width="0.9"/>
<line x1="382.25" y1="209.60" x2="386.25" y2="209.60" stroke="#333" stroke-width="1.0"/>
<rect x="381.20" y="213.60" width="6.10" height="43.70" fill="#a8323f" stroke="#8c1f2e" stroke-width="0.8"/>
<line x1="394.85" y1="244.30" x2="394.85" y2="241.50" stroke="#333" stroke-width="0.9"/>
<line x1="392.85" y1="241.90" x2="396.85" y2="241.90" stroke="#333" stroke-width="1.0"/>
<rect x="391.60" y="244.70" width="6.50" height="12.60" fill="#4a6690" stroke="#2f4a72" stroke-width="0.8"/>
<line x1="411.60" y1="244.30" x2="411.60" y2="241.60" stroke="#333" stroke-width="0.9"/>
<line x1="409.60" y1="242.00" x2="413.60" y2="242.00" stroke="#333" stroke-width="1.0"/>
<rect x="408.20" y="244.70" width="6.80" height="12.60" fill="#a8323f" stroke="#8c1f2e" stroke-width="0.8"/>
<line x1="421.40" y1="242.00" x2="421.40" y2="238.00" stroke="#333" stroke-width="0.9"/>
<line x1="419.40" y1="238.40" x2="423.40" y2="238.40" stroke="#333" stroke-width="1.0"/>
<rect x="418.10" y="242.40" width="6.60" height="14.90" fill="#4a6690" stroke="#2f4a72" stroke-width="0.8"/>
<line x1="384.20" y1="206.20" x2="395.80" y2="206.20" stroke="#222" stroke-width="0.9"/>
<text transform="translate(390.20,207.60) translate(-2.53,0)" font-size="6.50" fill="#231f20" stroke="#231f20" stroke-width="0.18"><tspan>**</tspan></text>
<text transform="translate(403.40,185.00) translate(-9.20,0) scale(1.0510,1)" font-size="9.00" fill="#231f20" stroke="#231f20" stroke-width="0.18"><tspan>Mpo</tspan></text>
<text transform="translate(344.60,225.00) rotate(-90) translate(-15.75,0) scale(1.0155,1)" font-size="9.30" fill="#231f20" stroke="#231f20" stroke-width="0.18"><tspan>% input</tspan></text>
<text transform="translate(392.90,266.90) rotate(-45) translate(-26.54,0) scale(0.9800,1)" font-size="8.40" fill="#231f20" stroke="#231f20" stroke-width="0.18"><tspan>Control</tspan></text>
<text transform="translate(419.00,268.20) rotate(-45) translate(-31.58,0) scale(0.9000,1)" font-size="8.40" fill="#231f20" stroke="#231f20" stroke-width="0.18"><tspan>Vav-iCre</tspan><tspan font-size="5.21" dy="-3.53">+</tspan></text>
<text transform="translate(426.80,273.20) rotate(-45) translate(-30.29,0) scale(0.9500,1)" font-size="8.40" fill="#231f20" stroke="#231f20" stroke-width="0.18"><tspan>NCoR1</tspan><tspan font-size="5.21" dy="-3.53">f/f</tspan></text>
<rect x="413.10" y="203.90" width="8.80" height="5.30" fill="#a8323f" stroke="#8c1f2e" stroke-width="0.6"/>
<rect x="413.10" y="212.70" width="8.80" height="5.30" fill="#4a6690" stroke="#2f4a72" stroke-width="0.6"/>
<text transform="translate(423.50,209.50) translate(0.00,0) scale(0.9065,1)" font-size="7.20" fill="#231f20" stroke="#231f20" stroke-width="0.18"><tspan>NCoR1</tspan></text>
<text transform="translate(423.50,218.20) translate(0.00,0) scale(0.9910,1)" font-size="7.20" fill="#231f20" stroke="#231f20" stroke-width="0.18"><tspan>IgG</tspan></text>
<line x1="49.50" y1="346.20" x2="49.50" y2="413.60" stroke="#231f20" stroke-width="1.1"/>
<line x1="46.20" y1="413.10" x2="49.50" y2="413.10" stroke="#231f20" stroke-width="1.0"/>
<text transform="translate(42.90,415.70) translate(-18.02,0)" font-size="7.20" fill="#231f20" stroke="#231f20" stroke-width="0.18"><tspan>0.000</tspan></text>
<line x1="46.20" y1="391.80" x2="49.50" y2="391.80" stroke="#231f20" stroke-width="1.0"/>
<text transform="translate(42.90,394.40) translate(-18.02,0)" font-size="7.20" fill="#231f20" stroke="#231f20" stroke-width="0.18"><tspan>0.001</tspan></text>
<line x1="46.20" y1="370.50" x2="49.50" y2="370.50" stroke="#231f20" stroke-width="1.0"/>
<text transform="translate(42.90,373.10) translate(-18.02,0)" font-size="7.20" fill="#231f20" stroke="#231f20" stroke-width="0.18"><tspan>0.002</tspan></text>
<line x1="46.20" y1="349.20" x2="49.50" y2="349.20" stroke="#231f20" stroke-width="1.0"/>
<text transform="translate(42.90,351.80) translate(-18.02,0)" font-size="7.20" fill="#231f20" stroke="#231f20" stroke-width="0.18"><tspan>0.003</tspan></text>
<line x1="49.00" y1="413.10" x2="102.40" y2="413.10" stroke="#231f20" stroke-width="1.1"/>
<line x1="61.50" y1="413.10" x2="61.50" y2="415.30" stroke="#231f20" stroke-width="0.9"/>
<line x1="88.50" y1="413.10" x2="88.50" y2="415.30" stroke="#231f20" stroke-width="0.9"/>
<line x1="56.45" y1="371.90" x2="56.45" y2="365.20" stroke="#333" stroke-width="0.9"/>
<line x1="54.45" y1="365.60" x2="58.45" y2="365.60" stroke="#333" stroke-width="1.0"/>
<rect x="53.30" y="372.30" width="6.30" height="40.80" fill="#a8323f" stroke="#8c1f2e" stroke-width="0.8"/>
<line x1="66.90" y1="403.60" x2="66.90" y2="403.00" stroke="#333" stroke-width="0.9"/>
<line x1="64.90" y1="403.40" x2="68.90" y2="403.40" stroke="#333" stroke-width="1.0"/>
<rect x="63.50" y="404.00" width="6.80" height="9.10" fill="#4a6690" stroke="#2f4a72" stroke-width="0.8"/>
<line x1="83.80" y1="400.50" x2="83.80" y2="399.80" stroke="#333" stroke-width="0.9"/>
<line x1="81.80" y1="400.20" x2="85.80" y2="400.20" stroke="#333" stroke-width="1.0"/>
<rect x="80.60" y="400.90" width="6.40" height="12.20" fill="#a8323f" stroke="#8c1f2e" stroke-width="0.8"/>
<line x1="94.30" y1="402.40" x2="94.30" y2="401.80" stroke="#333" stroke-width="0.9"/>
<line x1="92.30" y1="402.20" x2="96.30" y2="402.20" stroke="#333" stroke-width="1.0"/>
<rect x="90.90" y="402.80" width="6.80" height="10.30" fill="#4a6690" stroke="#2f4a72" stroke-width="0.8"/>
<line x1="56.00" y1="361.20" x2="66.70" y2="361.20" stroke="#222" stroke-width="0.9"/>
<text transform="translate(61.55,362.60) translate(-1.26,0)" font-size="6.50" fill="#231f20" stroke="#231f20" stroke-width="0.18"><tspan>*</tspan></text>
<text transform="translate(75.50,341.00) translate(-12.86,0) scale(0.9700,1)" font-size="9.00" fill="#231f20" stroke="#231f20" stroke-width="0.18"><tspan>Cebpe</tspan></text>
<text transform="translate(16.30,381.00) rotate(-90) translate(-15.75,0) scale(1.0155,1)" font-size="9.30" fill="#231f20" stroke="#231f20" stroke-width="0.18"><tspan>% input</tspan></text>
<text transform="translate(64.90,422.70) rotate(-45) translate(-26.54,0) scale(0.9800,1)" font-size="8.40" fill="#231f20" stroke="#231f20" stroke-width="0.18"><tspan>Control</tspan></text>
<text transform="translate(90.90,424.00) rotate(-45) translate(-31.58,0) scale(0.9000,1)" font-size="8.40" fill="#231f20" stroke="#231f20" stroke-width="0.18"><tspan>Vav-iCre</tspan><tspan font-size="5.21" dy="-3.53">+</tspan></text>
<text transform="translate(98.70,429.00) rotate(-45) translate(-30.29,0) scale(0.9500,1)" font-size="8.40" fill="#231f20" stroke="#231f20" stroke-width="0.18"><tspan>NCoR1</tspan><tspan font-size="5.21" dy="-3.53">f/f</tspan></text>
<line x1="153.00" y1="346.50" x2="153.00" y2="414.00" stroke="#231f20" stroke-width="1.1"/>
<line x1="149.70" y1="413.50" x2="153.00" y2="413.50" stroke="#231f20" stroke-width="1.0"/>
<text transform="translate(146.40,416.10) translate(-18.02,0)" font-size="7.20" fill="#231f20" stroke="#231f20" stroke-width="0.18"><tspan>0.000</tspan></text>
<line x1="149.70" y1="397.50" x2="153.00" y2="397.50" stroke="#231f20" stroke-width="1.0"/>
<text transform="translate(146.40,400.10) translate(-18.02,0)" font-size="7.20" fill="#231f20" stroke="#231f20" stroke-width="0.18"><tspan>0.001</tspan></text>
<line x1="149.70" y1="381.50" x2="153.00" y2="381.50" stroke="#231f20" stroke-width="1.0"/>
<text transform="translate(146.40,384.10) translate(-18.02,0)" font-size="7.20" fill="#231f20" stroke="#231f20" stroke-width="0.18"><tspan>0.002</tspan></text>
<line x1="149.70" y1="365.50" x2="153.00" y2="365.50" stroke="#231f20" stroke-width="1.0"/>
<text transform="translate(146.40,368.10) translate(-18.02,0)" font-size="7.20" fill="#231f20" stroke="#231f20" stroke-width="0.18"><tspan>0.003</tspan></text>
<line x1="149.70" y1="349.50" x2="153.00" y2="349.50" stroke="#231f20" stroke-width="1.0"/>
<text transform="translate(146.40,352.10) translate(-18.02,0)" font-size="7.20" fill="#231f20" stroke="#231f20" stroke-width="0.18"><tspan>0.004</tspan></text>
<line x1="152.50" y1="413.50" x2="217.00" y2="413.50" stroke="#231f20" stroke-width="1.1"/>
<line x1="166.50" y1="413.50" x2="166.50" y2="415.70" stroke="#231f20" stroke-width="0.9"/>
<line x1="193.50" y1="413.50" x2="193.50" y2="415.70" stroke="#231f20" stroke-width="0.9"/>
<line x1="161.30" y1="371.20" x2="161.30" y2="365.50" stroke="#333" stroke-width="0.9"/>
<line x1="159.30" y1="365.90" x2="163.30" y2="365.90" stroke="#333" stroke-width="1.0"/>
<rect x="158.00" y="371.60" width="6.60" height="41.90" fill="#a8323f" stroke="#8c1f2e" stroke-width="0.8"/>
<line x1="171.70" y1="400.10" x2="171.70" y2="396.60" stroke="#333" stroke-width="0.9"/>
<line x1="169.70" y1="397.00" x2="173.70" y2="397.00" stroke="#333" stroke-width="1.0"/>
<rect x="168.40" y="400.50" width="6.60" height="13.00" fill="#4a6690" stroke="#2f4a72" stroke-width="0.8"/>
<line x1="188.40" y1="398.50" x2="188.40" y2="394.30" stroke="#333" stroke-width="0.9"/>
<line x1="186.40" y1="394.70" x2="190.40" y2="394.70" stroke="#333" stroke-width="1.0"/>
<rect x="185.00" y="398.90" width="6.80" height="14.60" fill="#a8323f" stroke="#8c1f2e" stroke-width="0.8"/>
<line x1="198.70" y1="397.30" x2="198.70" y2="394.30" stroke="#333" stroke-width="0.9"/>
<line x1="196.70" y1="394.70" x2="200.70" y2="394.70" stroke="#333" stroke-width="1.0"/>
<rect x="195.40" y="397.70" width="6.60" height="15.80" fill="#4a6690" stroke="#2f4a72" stroke-width="0.8"/>
<line x1="160.40" y1="361.50" x2="171.50" y2="361.50" stroke="#222" stroke-width="0.9"/>
<text transform="translate(166.15,362.90) translate(-1.26,0)" font-size="6.50" fill="#231f20" stroke="#231f20" stroke-width="0.18"><tspan>*</tspan></text>
<text transform="translate(184.60,340.60) translate(-9.20,0) scale(1.0510,1)" font-size="9.00" fill="#231f20" stroke="#231f20" stroke-width="0.18"><tspan>Mpo</tspan></text>
<text transform="translate(120.80,380.00) rotate(-90) translate(-15.75,0) scale(1.0155,1)" font-size="9.30" fill="#231f20" stroke="#231f20" stroke-width="0.18"><tspan>% input</tspan></text>
<text transform="translate(169.90,423.10) rotate(-45) translate(-26.54,0) scale(0.9800,1)" font-size="8.40" fill="#231f20" stroke="#231f20" stroke-width="0.18"><tspan>Control</tspan></text>
<text transform="translate(195.90,424.40) rotate(-45) translate(-31.58,0) scale(0.9000,1)" font-size="8.40" fill="#231f20" stroke="#231f20" stroke-width="0.18"><tspan>Vav-iCre</tspan><tspan font-size="5.21" dy="-3.53">+</tspan></text>
<text transform="translate(203.70,429.40) rotate(-45) translate(-30.29,0) scale(0.9500,1)" font-size="8.40" fill="#231f20" stroke="#231f20" stroke-width="0.18"><tspan>NCoR1</tspan><tspan font-size="5.21" dy="-3.53">f/f</tspan></text>
<rect x="177.70" y="351.20" width="7.60" height="5.00" fill="#a8323f" stroke="#8c1f2e" stroke-width="0.6"/>
<rect x="177.70" y="359.20" width="7.60" height="4.60" fill="#4a6690" stroke="#2f4a72" stroke-width="0.6"/>
<text transform="translate(187.40,356.30) translate(0.00,0) scale(0.9041,1)" font-size="6.20" fill="#231f20" stroke="#231f20" stroke-width="0.18"><tspan>HDAC3</tspan></text>
<text transform="translate(187.40,364.00) translate(0.00,0) scale(0.7005,1)" font-size="6.20" fill="#231f20" stroke="#231f20" stroke-width="0.18"><tspan>IgG</tspan></text>
<line x1="271.40" y1="344.50" x2="271.40" y2="411.20" stroke="#231f20" stroke-width="1.1"/>
<line x1="268.10" y1="410.70" x2="271.40" y2="410.70" stroke="#231f20" stroke-width="1.0"/>
<text transform="translate(264.80,413.30) translate(-14.01,0)" font-size="7.20" fill="#231f20" stroke="#231f20" stroke-width="0.18"><tspan>0.00</tspan></text>
<line x1="268.10" y1="398.03" x2="271.40" y2="398.03" stroke="#231f20" stroke-width="1.0"/>
<text transform="translate(264.80,400.63) translate(-14.01,0)" font-size="7.20" fill="#231f20" stroke="#231f20" stroke-width="0.18"><tspan>0.02</tspan></text>
<line x1="268.10" y1="385.36" x2="271.40" y2="385.36" stroke="#231f20" stroke-width="1.0"/>
<text transform="translate(264.80,387.96) translate(-14.01,0)" font-size="7.20" fill="#231f20" stroke="#231f20" stroke-width="0.18"><tspan>0.04</tspan></text>
<line x1="268.10" y1="372.69" x2="271.40" y2="372.69" stroke="#231f20" stroke-width="1.0"/>
<text transform="translate(264.80,375.29) translate(-14.01,0)" font-size="7.20" fill="#231f20" stroke="#231f20" stroke-width="0.18"><tspan>0.06</tspan></text>
<line x1="268.10" y1="360.02" x2="271.40" y2="360.02" stroke="#231f20" stroke-width="1.0"/>
<text transform="translate(264.80,362.62) translate(-14.01,0)" font-size="7.20" fill="#231f20" stroke="#231f20" stroke-width="0.18"><tspan>0.08</tspan></text>
<line x1="268.10" y1="347.35" x2="271.40" y2="347.35" stroke="#231f20" stroke-width="1.0"/>
<text transform="translate(264.80,349.95) translate(-14.01,0)" font-size="7.20" fill="#231f20" stroke="#231f20" stroke-width="0.18"><tspan>0.10</tspan></text>
<line x1="270.90" y1="410.70" x2="350.60" y2="410.70" stroke="#231f20" stroke-width="1.1"/>
<line x1="284.40" y1="410.70" x2="284.40" y2="412.90" stroke="#231f20" stroke-width="0.9"/>
<line x1="311.40" y1="410.70" x2="311.40" y2="412.90" stroke="#231f20" stroke-width="0.9"/>
<line x1="337.30" y1="410.70" x2="337.30" y2="412.90" stroke="#231f20" stroke-width="0.9"/>
<line x1="279.20" y1="398.60" x2="279.20" y2="398.00" stroke="#333" stroke-width="0.9"/>
<line x1="277.20" y1="398.40" x2="281.20" y2="398.40" stroke="#333" stroke-width="1.0"/>
<rect x="275.90" y="399.00" width="6.60" height="11.70" fill="#a8323f" stroke="#8c1f2e" stroke-width="0.8"/>
<line x1="289.25" y1="392.10" x2="289.25" y2="391.30" stroke="#333" stroke-width="0.9"/>
<line x1="287.25" y1="391.70" x2="291.25" y2="391.70" stroke="#333" stroke-width="1.0"/>
<rect x="285.60" y="392.50" width="7.30" height="18.20" fill="#4a6690" stroke="#2f4a72" stroke-width="0.8"/>
<line x1="306.20" y1="377.10" x2="306.20" y2="376.40" stroke="#333" stroke-width="0.9"/>
<line x1="304.20" y1="376.80" x2="308.20" y2="376.80" stroke="#333" stroke-width="1.0"/>
<rect x="302.80" y="377.50" width="6.80" height="33.20" fill="#a8323f" stroke="#8c1f2e" stroke-width="0.8"/>
<line x1="315.85" y1="352.90" x2="315.85" y2="352.00" stroke="#333" stroke-width="0.9"/>
<line x1="313.85" y1="352.40" x2="317.85" y2="352.40" stroke="#333" stroke-width="1.0"/>
<rect x="312.30" y="353.30" width="7.10" height="57.40" fill="#4a6690" stroke="#2f4a72" stroke-width="0.8"/>
<rect x="328.60" y="410.30" width="7.00" height="0.40" fill="#a8323f" stroke="#8c1f2e" stroke-width="0.8"/>
<line x1="278.60" y1="388.60" x2="289.80" y2="388.60" stroke="#222" stroke-width="0.9"/>
<text transform="translate(284.40,390.00) translate(-2.53,0)" font-size="6.50" fill="#231f20" stroke="#231f20" stroke-width="0.18"><tspan>**</tspan></text>
<line x1="305.20" y1="349.30" x2="316.70" y2="349.30" stroke="#222" stroke-width="0.9"/>
<text transform="translate(311.15,350.70) translate(-3.79,0)" font-size="6.50" fill="#231f20" stroke="#231f20" stroke-width="0.18"><tspan>***</tspan></text>
<text transform="translate(310.70,340.90) translate(-12.86,0) scale(0.9700,1)" font-size="9.00" fill="#231f20" stroke="#231f20" stroke-width="0.18"><tspan>Cebpe</tspan></text>
<text transform="translate(244.10,377.00) rotate(-90) translate(-15.75,0) scale(1.0155,1)" font-size="9.30" fill="#231f20" stroke="#231f20" stroke-width="0.18"><tspan>% input</tspan></text>
<text transform="translate(287.80,420.30) rotate(-45) translate(-17.26,0) scale(0.8800,1)" font-size="8.40" fill="#231f20" stroke="#231f20" stroke-width="0.18"><tspan>H4ac</tspan></text>
<text transform="translate(314.80,420.30) rotate(-45) translate(-30.41,0) scale(0.8800,1)" font-size="8.40" fill="#231f20" stroke="#231f20" stroke-width="0.18"><tspan>H3K27ac</tspan></text>
<text transform="translate(340.70,420.30) rotate(-45) translate(-11.91,0) scale(0.8800,1)" font-size="8.40" fill="#231f20" stroke="#231f20" stroke-width="0.18"><tspan>IgG</tspan></text>
<line x1="395.80" y1="343.90" x2="395.80" y2="410.40" stroke="#231f20" stroke-width="1.1"/>
<line x1="392.50" y1="409.90" x2="395.80" y2="409.90" stroke="#231f20" stroke-width="1.0"/>
<text transform="translate(389.20,412.50) translate(-14.01,0)" font-size="7.20" fill="#231f20" stroke="#231f20" stroke-width="0.18"><tspan>0.00</tspan></text>
<line x1="392.50" y1="397.20" x2="395.80" y2="397.20" stroke="#231f20" stroke-width="1.0"/>
<text transform="translate(389.20,399.80) translate(-14.01,0)" font-size="7.20" fill="#231f20" stroke="#231f20" stroke-width="0.18"><tspan>0.02</tspan></text>
<line x1="392.50" y1="384.50" x2="395.80" y2="384.50" stroke="#231f20" stroke-width="1.0"/>
<text transform="translate(389.20,387.10) translate(-14.01,0)" font-size="7.20" fill="#231f20" stroke="#231f20" stroke-width="0.18"><tspan>0.04</tspan></text>
<line x1="392.50" y1="371.80" x2="395.80" y2="371.80" stroke="#231f20" stroke-width="1.0"/>
<text transform="translate(389.20,374.40) translate(-14.01,0)" font-size="7.20" fill="#231f20" stroke="#231f20" stroke-width="0.18"><tspan>0.06</tspan></text>
<line x1="392.50" y1="359.10" x2="395.80" y2="359.10" stroke="#231f20" stroke-width="1.0"/>
<text transform="translate(389.20,361.70) translate(-14.01,0)" font-size="7.20" fill="#231f20" stroke="#231f20" stroke-width="0.18"><tspan>0.08</tspan></text>
<line x1="392.50" y1="346.40" x2="395.80" y2="346.40" stroke="#231f20" stroke-width="1.0"/>
<text transform="translate(389.20,349.00) translate(-14.01,0)" font-size="7.20" fill="#231f20" stroke="#231f20" stroke-width="0.18"><tspan>0.10</tspan></text>
<line x1="395.30" y1="409.90" x2="475.60" y2="409.90" stroke="#231f20" stroke-width="1.1"/>
<line x1="408.70" y1="409.90" x2="408.70" y2="412.10" stroke="#231f20" stroke-width="0.9"/>
<line x1="435.30" y1="409.90" x2="435.30" y2="412.10" stroke="#231f20" stroke-width="0.9"/>
<line x1="461.80" y1="409.90" x2="461.80" y2="412.10" stroke="#231f20" stroke-width="0.9"/>
<line x1="403.85" y1="402.80" x2="403.85" y2="402.20" stroke="#333" stroke-width="0.9"/>
<line x1="401.85" y1="402.60" x2="405.85" y2="402.60" stroke="#333" stroke-width="1.0"/>
<rect x="400.30" y="403.20" width="7.10" height="6.70" fill="#a8323f" stroke="#8c1f2e" stroke-width="0.8"/>
<line x1="413.90" y1="393.10" x2="413.90" y2="390.80" stroke="#333" stroke-width="0.9"/>
<line x1="411.90" y1="391.20" x2="415.90" y2="391.20" stroke="#333" stroke-width="1.0"/>
<rect x="410.50" y="393.50" width="6.80" height="16.40" fill="#4a6690" stroke="#2f4a72" stroke-width="0.8"/>
<line x1="430.70" y1="393.10" x2="430.70" y2="391.20" stroke="#333" stroke-width="0.9"/>
<line x1="428.70" y1="391.60" x2="432.70" y2="391.60" stroke="#333" stroke-width="1.0"/>
<rect x="427.30" y="393.50" width="6.80" height="16.40" fill="#a8323f" stroke="#8c1f2e" stroke-width="0.8"/>
<line x1="440.55" y1="360.30" x2="440.55" y2="358.00" stroke="#333" stroke-width="0.9"/>
<line x1="438.55" y1="358.40" x2="442.55" y2="358.40" stroke="#333" stroke-width="1.0"/>
<rect x="437.30" y="360.70" width="6.50" height="49.20" fill="#4a6690" stroke="#2f4a72" stroke-width="0.8"/>
<rect x="453.30" y="409.40" width="7.30" height="0.50" fill="#a8323f" stroke="#8c1f2e" stroke-width="0.8"/>
<rect x="463.40" y="409.40" width="6.70" height="0.50" fill="#4a6690" stroke="#2f4a72" stroke-width="0.8"/>
<line x1="403.20" y1="387.30" x2="414.20" y2="387.30" stroke="#222" stroke-width="0.9"/>
<text transform="translate(408.90,388.70) translate(-1.26,0)" font-size="6.50" fill="#231f20" stroke="#231f20" stroke-width="0.18"><tspan>*</tspan></text>
<line x1="430.40" y1="355.00" x2="440.80" y2="355.00" stroke="#222" stroke-width="0.9"/>
<text transform="translate(435.80,356.40) translate(-3.79,0)" font-size="6.50" fill="#231f20" stroke="#231f20" stroke-width="0.18"><tspan>***</tspan></text>
<text transform="translate(435.70,340.30) translate(-9.20,0) scale(1.0510,1)" font-size="9.00" fill="#231f20" stroke="#231f20" stroke-width="0.18"><tspan>Mpo</tspan></text>
<text transform="translate(368.80,376.30) rotate(-90) translate(-15.75,0) scale(1.0155,1)" font-size="9.30" fill="#231f20" stroke="#231f20" stroke-width="0.18"><tspan>% input</tspan></text>
<text transform="translate(412.10,419.50) rotate(-45) translate(-17.26,0) scale(0.8800,1)" font-size="8.40" fill="#231f20" stroke="#231f20" stroke-width="0.18"><tspan>H4ac</tspan></text>
<text transform="translate(438.70,419.50) rotate(-45) translate(-30.41,0) scale(0.8800,1)" font-size="8.40" fill="#231f20" stroke="#231f20" stroke-width="0.18"><tspan>H3K27ac</tspan></text>
<text transform="translate(465.20,419.50) rotate(-45) translate(-11.91,0) scale(0.8800,1)" font-size="8.40" fill="#231f20" stroke="#231f20" stroke-width="0.18"><tspan>IgG</tspan></text>
<line x1="464.80" y1="408.40" x2="468.80" y2="408.40" stroke="#222" stroke-width="1.0"/>
<rect x="457.20" y="347.30" width="8.60" height="5.40" fill="#a8323f" stroke="#8c1f2e" stroke-width="0.6"/>
<rect x="457.20" y="358.80" width="8.60" height="5.10" fill="#4a6690" stroke="#2f4a72" stroke-width="0.6"/>
<text transform="translate(468.50,352.80) translate(0.00,0) scale(0.9229,1)" font-size="8.00" fill="#231f20" stroke="#231f20" stroke-width="0.18"><tspan>Control</tspan></text>
<text transform="translate(468.50,364.20) translate(0.00,0) scale(0.8613,1)" font-size="8.00" fill="#231f20" stroke="#231f20" stroke-width="0.18"><tspan>Vav-iCre</tspan><tspan font-size="4.96" dy="-3.36">+</tspan><tspan dy="3.36">,</tspan></text>
<text transform="translate(468.50,372.80) translate(0.00,0) scale(0.8859,1)" font-size="8.00" fill="#231f20" stroke="#231f20" stroke-width="0.18"><tspan>NCoR1</tspan><tspan font-size="4.96" dy="-3.36">f/f</tspan></text>
<line x1="32.2" y1="45.5" x2="72.0" y2="45.5" stroke="#9a9a9a" stroke-width="0.7"/>
<line x1="40.5" y1="45.5" x2="40.5" y2="76.0" stroke="#9a9a9a" stroke-width="0.7"/>
<line x1="32.2" y1="76.0" x2="40.5" y2="76.0" stroke="#9a9a9a" stroke-width="0.7"/>
<line x1="67.5" y1="45.5" x2="67.5" y2="64.0" stroke="#9a9a9a" stroke-width="0.7"/>
<line x1="88.3" y1="44.1" x2="117.9" y2="44.1" stroke="#9a9a9a" stroke-width="0.7"/>
<line x1="98.4" y1="44.1" x2="98.4" y2="63.1" stroke="#9a9a9a" stroke-width="0.7"/>
<line x1="88.3" y1="63.1" x2="117.9" y2="63.1" stroke="#9a9a9a" stroke-width="0.7"/>
<rect x="117.9" y="41.9" width="7.6" height="21.2" fill="none" stroke="#9a9a9a" stroke-width="0.7"/>
<rect x="32.2" y="100.3" width="39.8" height="17.8" fill="none" stroke="#9a9a9a" stroke-width="0.7"/>
<line x1="40.3" y1="100.3" x2="40.3" y2="118.1" stroke="#9a9a9a" stroke-width="0.7"/>
<line x1="88.3" y1="99.6" x2="117.4" y2="99.6" stroke="#9a9a9a" stroke-width="0.7"/>
<line x1="98.4" y1="99.6" x2="98.4" y2="118.1" stroke="#9a9a9a" stroke-width="0.7"/>
<line x1="88.3" y1="118.1" x2="117.4" y2="118.1" stroke="#9a9a9a" stroke-width="0.7"/>
<rect x="117.4" y="96.9" width="8.4" height="21.2" fill="none" stroke="#9a9a9a" stroke-width="0.7"/>
<g filter="url(#b2)">
<path d="M58.3,43 C61,42 65,42 66.8,44 C67.8,48 67.8,55 67,58.6 C65,60 61.5,60 59.5,58 C58.5,54 58.2,48 58.3,43 Z" fill="#999"/>
<path d="M42,48.5 C48,47 54,46.5 60,46 L60,58.8 C53,59.8 47,60 42,59.8 Z" fill="#a8a8a8"/>
<path d="M42,48.4 C48,47.3 54,46.9 59.5,46.5" fill="none" stroke="#222" stroke-width="1.5"/>
<path d="M102.8,48 L106,45.5 L110.2,44.6 L115,44.8 L120.6,45.8 L123.8,47.3 L124.9,49.2 L123.8,51.5 L121.8,52.6 L118.5,54.2 L116.3,56 L114.5,58 L113.2,59.7 L110.5,61 L108.3,61.2 L104.5,60.6 L101.5,59 L100.2,56 L100.3,52 L101.2,49.8 Z" fill="#a8a8a8"/>
<path d="M101.8,49.6 L106,46.2 L110.2,45.3 L115,45.5 L120.6,46.5 L123.5,48.2" fill="none" stroke="#1e1e1e" stroke-width="1.6"/>
<path d="M58.6,102 C62,100.4 66,100.6 68.4,102.5 C68.8,106 68.6,111 68.2,113.5 C65,114.8 61,114.2 58.8,111 C58.2,108 58.2,104 58.6,102 Z" fill="#444"/>
<path d="M53,101 C56,97.8 62,96.8 69.5,97.6 L70.3,116 C67,118.4 58,118.6 54,116 C52.3,111 52.3,105 53,101 Z" fill="#aaa"/>
<path d="M115,101.5 C117,99.5 121,99 124.5,99.6 C126.2,102 126,107 123.5,109.5 C120,111 117,110 115,107 Z" fill="#555"/>
<path d="M100,107 C106,103 112,101 116,100.5 L118,112 C116,117 112,122 107,124 C103,124 100.6,120 100,114 Z" fill="#c4c4c4"/>
</g>
<g fill="none" stroke="#2a2a2a" stroke-width="0.42" stroke-opacity="1.0"><path d="M36.8,77.2 L35.6,77.0 L34.6,76.4 L33.8,75.4 L33.5,74.2 L33.4,52.6 L33.9,50.8 L34.8,49.4 L37.2,47.2 L41.4,45.9 L57.6,46.0 L57.9,45.4 L57.7,43.8 L57.9,42.4 L58.2,42.1 L59.4,41.7 L60.8,41.4 L62.4,41.5 L65.2,41.9 L66.0,42.3 L67.5,44.0 L67.7,44.6 L68.0,49.0 L67.7,58.4 L67.5,59.0 L66.6,59.8 L65.6,62.4 L63.9,65.0 L62.0,66.5 L59.4,67.0 L45.4,66.9 L43.6,66.7 L41.2,66.0 L40.7,66.0 L40.3,66.6 L40.0,67.8 L39.7,75.0 L39.4,75.8 L38.6,76.6 L36.8,77.2"/><path d="M37.4,76.3 L36.4,76.4 L35.4,76.0 L34.7,75.2 L34.3,74.2 L34.2,52.6 L34.5,51.0 L35.2,49.8 L37.9,47.4 L41.0,46.3 L42.4,46.1 L57.7,46.2 L58.0,45.6 L57.8,42.8 L58.4,42.1 L61.0,41.6 L64.4,41.9 L65.8,42.3 L67.3,44.0 L67.6,44.6 L67.8,49.2 L67.6,58.4 L67.2,59.1 L65.8,60.0 L64.8,62.2 L63.7,63.8 L62.8,64.7 L61.6,65.3 L58.0,65.7 L44.6,65.6 L42.6,65.1 L40.4,64.0 L39.8,64.1 L39.4,64.8 L39.2,66.2 L39.0,74.4 L38.4,75.6 L37.4,76.3"/><path d="M37.2,74.8 L36.2,74.8 L35.7,74.0 L35.5,54.8 L35.2,52.2 L35.4,51.0 L35.9,50.2 L37.4,49.1 L38.9,47.4 L40.8,46.7 L42.6,46.5 L57.8,46.5 L58.1,45.6 L58.0,43.0 L58.4,42.3 L61.0,41.7 L64.4,42.0 L65.8,42.5 L67.2,44.0 L67.4,44.8 L67.7,53.4 L67.5,58.2 L67.2,58.8 L64.7,60.4 L63.7,62.2 L62.6,63.4 L61.6,63.9 L60.0,64.2 L44.2,64.1 L42.0,63.4 L39.4,61.3 L38.8,61.2 L38.2,62.0 L37.9,63.6 L37.7,74.0 L37.2,74.8"/><path d="M57.4,63.6 L45.2,63.5 L43.2,63.2 L41.6,62.5 L40.5,61.4 L39.3,59.2 L38.7,57.4 L38.1,54.4 L36.8,53.7 L36.0,52.7 L35.8,51.6 L36.1,50.8 L37.8,49.5 L39.2,47.6 L40.6,46.9 L42.6,46.6 L57.8,46.6 L58.2,46.1 L58.0,43.0 L58.4,42.3 L61.0,41.8 L64.2,42.1 L65.6,42.4 L67.3,44.6 L67.6,53.2 L67.3,58.6 L64.2,60.4 L63.2,62.0 L62.0,63.0 L60.4,63.5 L57.4,63.6"/><path d="M58.2,62.8 L45.2,62.8 L43.2,62.5 L41.6,61.8 L40.9,61.0 L40.1,58.6 L39.5,52.4 L38.6,50.6 L38.7,49.8 L39.6,47.8 L40.6,47.2 L42.4,46.8 L57.8,46.8 L58.1,46.6 L58.3,46.2 L58.1,43.2 L58.4,42.5 L61.0,41.9 L64.2,42.2 L65.6,42.5 L67.1,44.2 L67.3,44.8 L67.5,53.2 L67.2,58.4 L66.9,58.8 L65.2,59.7 L63.8,60.2 L62.7,61.6 L61.8,62.2 L60.6,62.6 L58.2,62.8"/><path d="M57.2,62.2 L45.2,62.0 L43.2,61.7 L42.0,61.2 L41.6,60.6 L40.6,57.0 L40.4,52.0 L39.8,49.6 L40.3,47.8 L41.4,47.2 L42.8,47.0 L58.0,46.9 L58.4,46.3 L58.2,43.2 L58.6,42.5 L61.0,42.0 L64.2,42.3 L65.6,42.7 L66.9,44.2 L67.1,44.8 L67.4,53.2 L67.1,58.4 L65.0,59.7 L63.0,60.2 L61.2,61.5 L57.2,62.2"/><path d="M57.6,61.0 L46.2,61.1 L44.2,60.9 L43.1,60.4 L42.1,59.0 L41.5,57.0 L40.8,49.2 L41.2,47.8 L41.9,47.4 L43.4,47.2 L58.0,47.1 L58.5,46.4 L58.4,43.4 L58.6,42.7 L61.0,42.1 L64.2,42.4 L65.5,42.8 L66.8,44.2 L67.0,44.8 L67.2,53.2 L66.9,58.4 L64.6,59.7 L57.6,61.0"/><path d="M61.8,59.8 L59.6,59.0 L57.2,59.1 L55.4,59.5 L53.8,59.2 L46.4,59.4 L44.6,58.9 L43.4,58.9 L42.9,58.2 L42.0,54.0 L42.4,52.6 L41.9,51.6 L42.1,48.2 L42.8,47.7 L44.4,47.5 L58.0,47.4 L58.4,47.1 L58.7,46.4 L58.6,43.4 L58.9,42.8 L61.2,42.4 L64.0,42.6 L65.4,43.0 L66.6,44.4 L66.8,45.0 L67.0,52.4 L66.8,58.0 L66.6,58.4 L64.6,59.5 L61.8,59.8"/><path d="M63.0,59.6 L61.4,59.7 L59.0,58.3 L57.0,58.5 L55.4,59.3 L54.0,58.5 L53.0,58.9 L51.0,58.9 L50.0,58.5 L49.0,58.9 L47.8,58.8 L46.6,59.1 L45.6,58.9 L44.6,58.2 L43.5,58.4 L43.2,58.0 L42.3,54.0 L43.0,52.2 L42.4,50.4 L42.7,48.2 L43.7,47.8 L45.6,47.7 L58.0,47.6 L58.6,47.0 L58.8,46.4 L58.7,43.4 L59.0,42.9 L61.0,42.5 L65.2,43.0 L66.5,44.4 L66.7,45.0 L66.9,52.8 L66.7,58.0 L66.4,58.4 L64.8,59.3 L63.0,59.6"/><path d="M62.4,59.6 L61.2,59.5 L58.8,57.6 L58.0,57.8 L56.8,57.7 L56.0,58.8 L55.4,59.0 L54.8,58.8 L54.7,57.6 L54.2,57.4 L52.2,57.5 L51.2,58.4 L49.8,57.5 L49.4,57.8 L49.0,58.6 L48.5,58.6 L48.0,58.2 L46.6,58.9 L45.6,58.6 L44.8,57.7 L43.6,57.8 L42.8,55.6 L42.5,53.8 L43.7,52.6 L43.8,51.4 L43.6,51.0 L42.8,50.6 L42.7,50.0 L43.4,49.2 L43.6,48.4 L44.5,48.0 L58.0,47.7 L58.9,46.4 L58.8,43.6 L59.0,43.0 L61.2,42.6 L65.2,43.1 L66.4,44.4 L66.6,45.0 L66.9,52.8 L66.6,58.0 L64.6,59.3 L62.4,59.6"/><path d="M63.4,59.4 L61.8,59.6 L61.2,59.4 L59.6,58.2 L58.8,56.9 L58.0,57.4 L56.6,56.9 L56.3,57.2 L56.0,58.3 L55.4,58.7 L55.1,58.4 L55.3,57.0 L54.8,56.1 L53.6,56.6 L52.4,56.4 L51.0,57.4 L49.8,56.7 L48.8,57.3 L47.6,57.3 L47.2,58.4 L46.6,58.7 L46.0,58.6 L45.5,58.2 L45.2,57.4 L43.8,57.2 L43.0,55.6 L42.8,53.8 L43.4,53.3 L45.2,53.4 L45.4,52.8 L44.6,52.0 L44.5,51.4 L45.3,50.2 L45.4,49.0 L45.8,48.5 L49.2,48.2 L57.8,48.2 L59.0,46.4 L58.9,43.6 L59.2,43.0 L61.2,42.7 L65.0,43.1 L66.3,44.4 L66.5,45.0 L66.8,49.6 L66.5,57.8 L66.3,58.2 L64.8,59.1 L63.4,59.4"/><path d="M43.6,50.5 L43.0,50.4 L43.0,50.0 L43.4,49.8 L43.7,50.0 L43.6,50.5"/><path d="M62.8,59.4 L61.4,59.5 L59.7,58.2 L58.8,56.2 L58.2,56.9 L57.8,57.0 L57.0,56.4 L56.0,56.3 L55.4,55.1 L55.0,54.9 L54.4,55.0 L54.0,55.8 L53.4,56.1 L52.9,55.8 L52.8,54.8 L52.3,54.6 L51.9,56.2 L51.2,57.0 L50.5,56.8 L50.0,55.2 L49.6,55.0 L48.9,55.2 L49.3,56.2 L49.0,56.8 L48.4,57.0 L47.2,56.7 L46.2,57.2 L45.4,57.1 L43.4,55.8 L43.1,55.2 L43.0,54.0 L43.4,53.7 L44.6,53.9 L45.1,54.6 L45.0,55.4 L47.2,55.4 L48.2,54.8 L47.8,54.1 L46.4,53.7 L46.4,53.2 L46.8,52.9 L49.4,53.1 L51.2,52.6 L52.2,53.0 L53.2,52.4 L54.0,52.3 L54.8,51.2 L54.6,50.9 L53.2,51.0 L52.0,52.2 L49.2,52.0 L48.7,51.6 L48.5,51.0 L48.8,49.6 L49.4,49.1 L50.2,49.3 L51.6,48.9 L53.0,49.5 L54.2,49.0 L55.2,49.3 L56.0,49.1 L56.6,49.9 L57.2,50.0 L58.2,49.2 L58.3,47.8 L59.1,46.4 L59.0,43.8 L59.2,43.2 L61.2,42.8 L64.8,43.2 L66.1,44.4 L66.4,45.0 L66.7,49.4 L66.4,57.6 L66.1,58.2 L64.8,59.0 L62.8,59.4"/><path d="M46.0,52.1 L45.2,52.0 L44.9,51.6 L45.0,51.2 L45.6,51.0 L46.1,51.2 L46.3,51.8 L46.0,52.1"/><path d="M57.1,53.8 L58.4,53.2 L58.5,51.8 L58.2,51.2 L57.8,51.2 L57.2,51.6 L57.2,52.6 L56.5,53.4 L56.8,53.9 L57.1,53.8"/><path d="M46.8,58.4 L46.2,58.5 L45.7,58.2 L45.7,57.8 L46.2,57.3 L47.0,57.7 L46.8,58.4"/><path d="M62.0,59.4 L61.2,59.2 L59.6,57.8 L58.7,53.8 L58.7,51.4 L58.3,50.4 L58.5,47.8 L59.4,46.2 L59.3,43.6 L59.6,43.3 L61.0,43.0 L64.6,43.4 L65.8,44.4 L66.2,45.2 L66.4,49.2 L66.2,57.8 L64.4,59.0 L62.0,59.4"/><path d="M50.8,51.4 L49.6,51.4 L49.2,51.0 L49.3,50.4 L51.8,49.6 L52.3,50.4 L52.2,51.1 L50.8,51.4"/><path d="M56.6,51.2 L56.0,51.3 L55.9,51.0 L56.2,50.8 L56.8,50.7 L56.6,51.2"/><path d="M56.4,52.6 L56.0,52.8 L54.9,52.4 L56.2,51.9 L56.5,52.2 L56.4,52.6"/><path d="M54.0,54.2 L53.4,54.3 L53.0,54.0 L52.9,53.6 L53.2,53.1 L53.6,53.0 L54.0,53.4 L54.2,53.8 L54.0,54.2"/><path d="M49.0,54.2 L48.7,54.0 L48.8,53.8 L49.2,54.0 L49.0,54.2"/><path d="M44.2,55.1 L43.7,55.0 L43.6,54.4 L44.4,54.4 L44.5,54.8 L44.2,55.1"/><path d="M51.2,56.7 L50.8,56.6 L50.5,56.0 L50.5,54.8 L51.0,54.3 L51.5,54.6 L51.7,55.2 L51.6,56.2 L51.2,56.7"/><path d="M57.0,55.7 L56.6,55.6 L56.4,55.2 L56.9,55.2 L57.0,55.7"/><path d="M46.4,56.6 L45.6,56.7 L45.2,56.2 L45.8,55.7 L46.4,55.7 L46.9,56.0 L46.4,56.6"/><path d="M48.4,56.4 L47.8,56.2 L47.9,55.8 L48.4,55.8 L48.6,56.2 L48.4,56.4"/><path d="M62.0,59.2 L61.2,59.0 L59.7,57.6 L58.9,53.8 L58.9,51.4 L58.6,50.4 L58.7,47.8 L59.7,46.2 L59.8,43.8 L61.0,43.4 L64.2,43.7 L65.4,44.6 L65.8,45.2 L66.1,49.2 L65.8,57.6 L64.4,58.6 L62.0,59.2"/><path d="M51.2,55.8 L51.0,55.8 L51.2,55.4 L51.2,55.8"/><path d="M62.6,58.8 L61.6,58.9 L60.0,57.7 L59.1,53.6 L58.9,47.8 L60.2,46.4 L60.4,44.4 L61.0,44.0 L64.2,44.3 L65.0,45.0 L65.2,45.6 L65.6,49.6 L65.4,57.2 L64.3,58.2 L62.6,58.8"/><path d="M62.4,58.4 L61.6,58.4 L60.3,57.4 L59.4,53.6 L59.2,50.2 L59.2,47.8 L60.8,46.6 L61.2,45.0 L61.6,44.8 L63.6,45.0 L64.3,45.4 L65.0,49.4 L64.8,56.8 L64.2,57.6 L62.4,58.4"/><path d="M62.6,57.7 L61.8,57.7 L60.8,57.0 L59.9,53.4 L59.7,49.6 L59.7,48.2 L60.0,47.6 L61.6,46.8 L62.4,46.0 L62.8,46.0 L63.4,46.3 L64.2,47.8 L64.3,52.6 L64.1,56.6 L62.6,57.7"/><path d="M62.8,56.4 L62.4,56.5 L62.0,56.2 L61.2,54.4 L60.9,53.0 L60.6,49.6 L60.6,48.4 L60.9,47.8 L62.6,47.2 L63.0,47.3 L63.4,47.8 L63.6,49.8 L63.4,55.6 L62.8,56.4"/></g>
<g fill="none" stroke="#2a2a2a" stroke-width="0.42" stroke-opacity="1.0"><path d="M110.2,61.2 L107.6,61.2 L104.6,60.8 L101.4,59.0 L100.1,56.0 L100.2,51.8 L101.1,49.6 L101.6,49.0 L105.8,45.3 L110.2,44.4 L114.8,44.5 L120.4,45.5 L124.0,47.3 L124.9,49.2 L124.1,51.2 L123.4,51.9 L118.6,54.4 L118.1,56.2 L118.5,57.2 L118.3,57.8 L117.8,58.0 L117.0,57.6 L116.3,57.8 L115.1,58.6 L114.4,59.8 L113.4,59.8 L110.2,61.2"/><path d="M94.6,72.2 L94.2,72.0 L93.1,69.8 L89.5,61.2 L88.5,55.0 L89.2,50.0 L89.8,48.7 L94.0,45.9 L98.8,45.0 L99.1,45.2 L99.2,45.8 L99.2,57.8 L99.9,58.6 L103.2,61.4 L103.7,62.0 L103.2,62.4 L99.8,62.7 L97.2,64.1 L96.2,66.8 L95.0,71.6 L94.6,72.2"/><path d="M110.4,60.9 L107.6,61.0 L104.8,60.5 L101.6,58.7 L100.4,56.2 L100.4,52.4 L101.3,49.6 L101.8,49.0 L105.8,45.6 L110.2,44.6 L114.8,44.7 L120.4,45.7 L123.8,47.4 L124.6,49.4 L123.6,51.4 L118.4,54.2 L118.0,55.6 L117.2,56.2 L116.9,57.0 L114.6,58.2 L114.4,59.4 L113.4,59.5 L110.4,60.9"/><path d="M94.6,70.9 L94.2,70.8 L93.6,69.7 L89.9,61.0 L89.0,55.6 L89.3,52.8 L89.7,50.0 L90.2,49.0 L94.2,46.3 L98.4,45.5 L98.6,45.6 L98.8,46.2 L98.8,58.0 L102.7,61.8 L99.6,62.3 L96.9,63.8 L95.7,66.8 L94.6,70.9"/><path d="M118.0,57.6 L117.4,57.5 L117.3,56.8 L117.6,56.6 L118.0,56.8 L118.2,57.2 L118.0,57.6"/><path d="M110.4,60.6 L107.8,60.8 L104.8,60.3 L101.8,58.6 L100.6,55.8 L100.7,52.2 L101.4,49.8 L101.8,49.2 L105.8,45.7 L110.2,44.7 L114.8,44.8 L120.0,45.7 L123.6,47.5 L124.4,49.4 L123.4,51.3 L118.4,53.9 L118.0,54.4 L117.6,55.6 L116.5,55.6 L116.6,56.8 L115.6,57.0 L114.3,58.0 L114.2,59.2 L113.4,59.2 L110.4,60.6"/><path d="M94.4,69.0 L94.0,68.9 L93.0,67.0 L90.5,60.8 L89.6,55.4 L89.8,53.0 L90.3,50.2 L90.7,49.4 L94.4,46.9 L97.8,46.3 L98.0,46.4 L98.2,47.0 L98.2,58.2 L98.8,59.0 L101.1,61.2 L100.8,61.5 L99.0,61.9 L96.4,63.4 L94.4,69.0"/><path d="M117.8,57.4 L117.5,57.2 L117.8,57.0 L118.0,57.2 L117.8,57.4"/><path d="M110.2,60.4 L107.8,60.5 L105.0,60.1 L103.6,59.5 L102.0,58.4 L100.9,56.0 L100.9,52.6 L101.5,49.8 L102.0,49.1 L106.0,45.7 L110.2,44.8 L114.8,45.0 L120.2,45.9 L123.5,47.6 L124.1,49.4 L123.2,51.1 L118.3,53.6 L117.8,54.2 L117.4,55.2 L116.6,55.1 L116.2,55.3 L115.0,57.2 L114.0,58.0 L113.8,58.6 L112.0,59.8 L110.2,60.4"/><path d="M94.0,65.9 L93.6,65.4 L91.5,60.4 L90.7,55.2 L90.9,53.2 L91.3,50.6 L91.6,50.2 L94.8,48.0 L96.8,47.6 L97.1,48.4 L97.1,58.2 L97.4,59.0 L98.6,60.6 L95.5,62.8 L94.0,65.9"/><path d="M109.8,60.0 L105.2,59.6 L103.6,59.1 L102.4,58.0 L101.5,55.4 L101.4,52.2 L101.8,51.0 L101.8,49.8 L102.2,49.2 L106.0,45.9 L110.2,45.0 L114.8,45.1 L120.0,46.0 L123.1,47.6 L123.4,49.4 L122.8,50.6 L117.9,53.2 L115.8,54.9 L112.8,58.8 L111.8,59.5 L109.8,60.0"/><path d="M109.6,59.6 L107.4,59.3 L106.0,59.4 L104.0,58.8 L103.3,58.4 L102.5,57.2 L102.0,55.6 L101.9,50.0 L102.2,49.4 L103.8,48.0 L106.2,46.0 L110.4,45.1 L114.8,45.3 L119.8,46.2 L122.8,47.6 L122.9,48.0 L122.6,48.6 L122.8,49.4 L122.4,50.2 L117.8,52.6 L115.8,54.1 L113.5,57.2 L113.0,58.2 L112.4,58.7 L111.6,59.1 L110.6,59.1 L109.6,59.6"/><path d="M109.6,59.2 L107.4,58.7 L105.6,59.0 L104.0,58.3 L102.8,56.9 L102.4,54.2 L102.5,53.2 L102.1,50.0 L102.4,49.4 L104.0,48.0 L106.2,46.1 L110.4,45.3 L114.8,45.4 L119.8,46.3 L122.5,47.6 L122.6,48.0 L122.0,48.8 L122.1,49.4 L121.9,49.8 L117.2,52.3 L115.5,53.6 L114.8,55.1 L113.2,56.9 L112.5,58.2 L111.6,58.6 L110.6,58.5 L109.6,59.2"/><path d="M109.6,58.7 L107.4,58.1 L105.6,58.6 L104.4,57.4 L103.1,56.8 L103.1,55.0 L102.8,54.0 L102.9,53.0 L102.5,52.0 L102.3,50.0 L104.0,48.1 L106.2,46.3 L110.4,45.4 L114.8,45.6 L119.8,46.4 L122.2,47.6 L122.2,48.0 L121.0,49.6 L119.2,50.6 L118.2,51.5 L116.7,52.0 L115.1,53.2 L114.7,54.6 L112.8,56.5 L112.3,57.8 L112.0,58.0 L110.6,57.8 L109.6,58.7"/><path d="M109.0,58.2 L108.4,58.2 L107.4,57.5 L105.6,58.1 L104.8,57.0 L103.7,56.4 L103.7,54.8 L103.2,54.0 L103.1,52.8 L102.7,51.8 L102.4,50.0 L102.6,49.6 L106.0,46.6 L110.2,45.5 L114.6,45.7 L120.0,46.6 L121.9,47.6 L121.9,48.0 L121.6,48.4 L119.9,49.2 L118.6,50.3 L118.0,51.2 L116.6,51.6 L114.6,52.8 L114.0,53.8 L111.9,55.8 L111.8,56.2 L112.2,57.0 L112.0,57.3 L110.4,57.2 L109.0,58.2"/><path d="M109.2,57.6 L107.6,57.1 L105.6,57.5 L105.2,56.7 L104.2,56.0 L104.1,54.0 L103.6,53.6 L103.4,52.4 L102.8,51.6 L102.6,49.8 L106.0,46.7 L106.6,46.4 L110.2,45.6 L112.0,45.6 L114.8,45.8 L119.6,46.6 L121.6,47.6 L121.7,48.0 L121.0,48.6 L117.5,49.2 L118.2,49.6 L117.8,50.9 L116.6,51.2 L114.6,52.2 L113.6,53.6 L112.5,54.2 L110.6,56.4 L109.2,57.6"/><path d="M109.2,57.1 L108.4,56.7 L106.0,56.5 L104.8,56.0 L104.6,55.4 L104.7,53.4 L104.0,52.8 L104.2,52.5 L104.8,52.3 L105.5,51.6 L105.5,51.2 L105.2,50.9 L104.8,50.9 L103.2,51.6 L103.0,51.2 L102.8,49.8 L106.1,46.8 L110.2,45.8 L111.8,45.7 L114.8,45.9 L119.6,46.8 L121.4,47.6 L121.4,48.0 L120.8,48.4 L114.7,49.2 L116.6,49.8 L116.7,50.0 L116.3,50.8 L115.8,51.3 L114.8,51.4 L114.2,51.9 L113.4,53.3 L112.2,53.8 L109.2,57.1"/><path d="M108.8,56.2 L107.2,56.3 L105.5,55.6 L105.2,55.2 L105.4,52.8 L107.3,50.8 L107.2,50.0 L106.5,50.0 L106.0,50.6 L105.0,50.5 L103.4,51.1 L102.9,50.4 L103.2,49.6 L106.2,46.9 L110.2,45.9 L111.8,45.8 L114.8,46.0 L119.6,46.9 L121.1,47.6 L121.1,48.0 L120.4,48.3 L113.0,48.8 L112.0,49.2 L112.0,49.4 L112.4,49.6 L115.4,50.0 L115.8,50.4 L115.6,50.7 L114.8,50.8 L114.0,51.3 L113.6,51.8 L113.2,53.0 L112.0,53.3 L109.9,55.6 L108.8,56.2"/><path d="M109.0,50.0 L110.5,49.4 L110.2,49.2 L108.4,49.8 L108.4,50.0 L109.0,50.0"/><path d="M103.6,50.8 L103.1,50.4 L103.1,49.8 L106.2,47.0 L110.2,46.0 L114.8,46.1 L119.8,47.0 L120.6,47.4 L120.9,47.8 L119.8,48.2 L110.2,48.9 L106.2,49.8 L103.6,50.8"/><path d="M108.2,56.0 L107.2,56.0 L105.9,55.0 L105.7,53.4 L106.2,52.4 L108.3,50.8 L110.0,50.3 L111.0,49.7 L113.9,50.4 L112.2,52.6 L111.2,53.4 L109.6,55.2 L108.2,56.0"/><path d="M104.0,50.4 L103.4,50.5 L103.2,50.2 L103.3,49.8 L106.4,47.0 L110.2,46.1 L114.8,46.2 L119.6,47.1 L120.5,47.6 L120.5,47.8 L119.8,48.0 L110.2,48.7 L106.0,49.6 L104.0,50.4"/><path d="M107.8,55.8 L107.2,55.7 L106.1,54.4 L106.0,53.6 L106.3,52.8 L108.6,51.2 L110.2,50.8 L111.2,50.0 L112.5,50.8 L112.6,51.0 L111.8,52.5 L110.8,53.1 L109.4,54.8 L107.8,55.8"/></g>
<g fill="none" stroke="#2a2a2a" stroke-width="0.42" stroke-opacity="1.0"><path d="M67.0,118.6 L55.8,118.5 L52.0,115.1 L48.6,112.5 L46.0,111.8 L44.4,111.9 L41.0,113.3 L39.5,115.0 L38.2,115.8 L37.0,116.0 L35.8,115.8 L34.0,114.5 L32.9,112.4 L32.4,109.8 L32.9,107.2 L33.5,105.8 L34.6,104.5 L35.8,103.8 L37.0,103.6 L38.4,103.9 L40.2,105.3 L41.0,105.4 L43.0,106.5 L45.4,107.0 L46.4,106.9 L49.5,103.8 L52.8,99.4 L54.6,97.6 L56.0,97.5 L60.4,96.5 L66.0,96.5 L69.0,97.2 L69.7,97.8 L70.7,101.4 L70.7,109.6 L70.2,115.8 L70.0,116.4 L69.4,117.0 L67.0,118.6"/><path d="M36.4,131.0 L35.2,130.7 L34.6,129.8 L34.9,128.8 L36.0,128.2 L37.2,128.5 L37.8,129.4 L37.5,130.4 L36.4,131.0"/><path d="M66.6,118.0 L60.6,118.1 L56.2,117.3 L55.2,116.6 L54.5,115.2 L53.1,114.2 L52.6,112.2 L50.2,110.3 L48.2,109.2 L51.8,105.2 L53.3,99.8 L53.6,99.3 L54.5,98.8 L54.6,98.2 L56.0,98.2 L60.4,97.2 L65.8,97.1 L68.6,97.8 L69.1,98.2 L70.1,101.6 L70.1,109.2 L69.8,114.0 L69.5,115.8 L69.2,116.4 L66.6,118.0"/><path d="M37.6,114.4 L36.2,114.4 L35.0,113.6 L34.0,112.2 L33.5,110.4 L33.7,108.4 L34.3,106.8 L35.4,105.6 L36.8,105.1 L38.0,105.3 L39.0,106.0 L41.0,108.8 L41.2,109.6 L41.0,110.7 L39.4,113.2 L38.6,114.0 L37.6,114.4"/><path d="M66.6,117.4 L60.8,117.5 L57.2,117.1 L55.7,116.6 L55.3,115.2 L53.6,114.0 L53.7,112.4 L52.5,108.2 L53.3,101.8 L53.7,100.8 L53.7,99.8 L54.0,99.5 L58.8,97.9 L60.8,97.6 L66.0,97.6 L68.2,98.2 L68.7,98.6 L69.3,99.8 L69.6,101.8 L69.4,113.8 L68.8,116.2 L67.6,116.7 L66.6,117.4"/><path d="M37.2,113.6 L36.0,113.4 L35.1,112.6 L34.4,111.4 L34.2,110.0 L34.3,108.6 L34.9,107.2 L35.8,106.3 L37.0,106.0 L38.0,106.2 L38.9,107.0 L39.6,108.2 L39.8,109.6 L39.7,111.0 L39.1,112.4 L38.2,113.3 L37.2,113.6"/><path d="M66.4,117.0 L62.8,117.2 L59.0,116.8 L57.6,116.9 L56.4,116.6 L55.8,116.2 L56.0,115.6 L55.3,114.6 L54.0,113.8 L54.2,111.8 L53.1,108.2 L53.4,104.4 L54.0,101.4 L54.7,100.2 L55.8,99.4 L59.0,98.3 L60.8,98.0 L65.4,98.0 L68.0,98.6 L68.9,99.6 L69.1,100.4 L69.1,108.0 L68.8,112.4 L69.1,113.6 L68.4,115.7 L66.4,117.0"/><path d="M37.6,112.8 L36.6,112.9 L35.8,112.5 L35.1,111.6 L34.7,110.4 L34.7,109.2 L35.1,108.0 L35.8,107.1 L36.8,106.7 L37.6,106.8 L38.4,107.3 L39.0,108.2 L39.3,109.2 L39.3,110.4 L39.0,111.4 L38.4,112.3 L37.6,112.8"/><path d="M63.4,116.6 L58.8,116.1 L57.4,116.2 L56.1,114.8 L55.8,114.0 L54.7,113.4 L54.8,111.2 L53.6,108.0 L54.1,106.4 L54.0,104.6 L54.6,102.0 L56.0,100.1 L58.0,99.4 L58.9,98.8 L59.8,98.9 L61.0,98.4 L62.8,98.8 L65.4,98.5 L67.6,98.9 L68.7,100.2 L68.5,101.4 L68.7,103.0 L68.7,110.8 L68.4,113.6 L67.7,115.0 L66.2,116.5 L64.4,116.4 L63.4,116.6"/><path d="M37.4,111.9 L36.8,111.9 L36.2,111.6 L35.5,110.2 L35.7,108.6 L36.2,108.0 L36.8,107.7 L37.4,107.7 L38.0,108.2 L38.5,109.4 L38.3,111.0 L37.4,111.9"/><path d="M63.0,116.2 L62.4,115.9 L61.4,116.0 L60.4,115.5 L59.2,115.5 L57.0,114.6 L56.7,113.6 L55.6,112.6 L55.8,111.4 L55.3,109.6 L54.1,108.0 L54.9,106.4 L54.4,104.6 L55.1,103.6 L56.0,100.8 L58.8,99.7 L60.0,99.8 L61.0,99.0 L62.0,99.6 L62.8,99.6 L64.0,99.6 L65.4,99.1 L67.0,99.7 L68.3,102.8 L68.4,110.8 L68.1,113.2 L66.0,115.9 L65.2,115.6 L64.0,115.6 L63.0,116.2"/><path d="M61.6,115.3 L60.6,114.7 L59.2,114.9 L58.0,113.8 L57.1,112.6 L56.0,109.2 L54.8,108.0 L55.6,106.4 L54.8,104.7 L55.6,104.0 L56.6,101.9 L57.2,101.4 L60.0,100.6 L61.2,100.1 L66.6,100.2 L68.1,103.0 L68.1,109.6 L67.8,113.0 L65.4,114.9 L62.4,114.9 L61.6,115.3"/><path d="M65.0,114.6 L59.4,113.9 L57.8,112.3 L56.6,108.8 L55.4,107.8 L56.0,107.4 L56.2,106.8 L56.0,105.4 L55.3,104.8 L56.4,104.7 L56.5,104.4 L56.2,103.8 L56.4,103.4 L57.6,102.1 L61.2,100.5 L66.2,100.7 L67.8,102.8 L67.9,109.6 L67.6,112.8 L66.8,113.6 L65.0,114.6"/><path d="M64.8,114.4 L61.2,113.9 L58.8,112.5 L57.9,111.2 L56.8,107.6 L57.9,102.6 L58.6,102.1 L61.8,100.7 L65.8,100.9 L67.7,103.0 L67.7,109.6 L67.4,112.6 L66.8,113.3 L64.8,114.4"/><path d="M64.8,114.2 L61.0,113.6 L59.0,112.0 L58.4,110.8 L57.9,107.4 L58.3,102.8 L58.8,102.2 L62.0,100.9 L65.8,101.2 L67.4,103.2 L67.5,109.6 L67.2,112.4 L66.8,113.1 L64.8,114.2"/><path d="M65.0,114.0 L61.1,113.4 L59.3,111.8 L58.7,110.6 L58.3,107.0 L58.6,102.8 L59.0,102.4 L62.0,101.1 L65.6,101.3 L66.7,102.4 L67.2,103.4 L67.4,109.6 L67.0,112.4 L66.8,112.8 L65.0,114.0"/><path d="M65.0,113.8 L61.2,113.2 L59.7,111.8 L59.0,110.6 L58.6,106.0 L59.0,102.8 L62.2,101.3 L65.4,101.5 L67.0,103.4 L67.2,109.6 L66.9,112.2 L66.6,112.7 L65.0,113.8"/><path d="M65.0,113.4 L64.6,113.5 L61.6,113.0 L60.0,111.5 L59.4,110.4 L58.9,107.0 L59.0,104.2 L59.7,102.8 L62.2,101.7 L65.2,101.8 L66.7,103.6 L66.8,109.6 L66.5,112.0 L65.0,113.4"/><path d="M64.6,113.2 L61.6,112.7 L60.2,111.4 L59.6,110.2 L59.0,105.8 L59.1,104.4 L59.8,103.0 L62.2,102.0 L65.2,102.1 L66.5,103.8 L66.6,109.6 L66.3,111.8 L64.6,113.2"/><path d="M64.6,112.9 L61.8,112.5 L60.3,111.2 L59.8,110.2 L59.2,105.8 L59.3,104.6 L60.2,103.0 L62.2,102.2 L65.0,102.3 L66.3,103.8 L66.4,109.4 L66.1,111.6 L64.6,112.9"/><path d="M64.8,112.4 L64.2,112.6 L62.0,112.3 L60.6,111.2 L60.0,110.2 L59.4,104.8 L60.3,103.2 L62.2,102.4 L63.4,102.3 L64.8,102.4 L66.0,103.8 L66.1,109.6 L65.8,111.6 L64.8,112.4"/><path d="M64.6,112.2 L63.2,112.3 L62.0,112.0 L60.6,110.8 L60.2,110.0 L59.6,106.2 L59.7,104.8 L60.6,103.3 L62.4,102.5 L63.6,102.4 L64.8,102.7 L65.9,104.0 L66.0,108.8 L65.7,111.2 L65.4,111.7 L64.6,112.2"/><path d="M64.2,112.0 L62.2,111.9 L60.7,110.6 L59.9,106.6 L59.9,104.8 L60.6,103.6 L63.0,102.6 L64.8,103.0 L65.7,104.2 L65.8,108.8 L65.5,111.0 L65.2,111.6 L64.2,112.0"/><path d="M64.0,111.8 L62.4,111.7 L60.8,110.4 L60.0,106.4 L60.1,104.8 L60.7,103.8 L61.4,103.3 L63.0,102.8 L64.6,103.1 L65.3,103.8 L65.5,104.4 L65.6,108.8 L65.3,111.0 L64.8,111.6 L64.0,111.8"/><path d="M63.6,111.6 L62.4,111.5 L61.0,110.3 L60.2,106.4 L60.4,104.8 L60.8,104.0 L61.6,103.4 L63.0,103.0 L64.2,103.2 L65.0,103.8 L65.4,105.8 L65.4,108.8 L65.1,110.8 L64.6,111.4 L63.6,111.6"/><path d="M63.4,111.4 L62.4,111.2 L61.2,110.2 L60.4,106.4 L60.5,105.0 L61.0,104.1 L61.6,103.6 L62.8,103.2 L64.0,103.4 L64.7,103.8 L65.1,104.4 L65.2,105.8 L65.2,108.8 L64.8,110.8 L64.4,111.2 L63.4,111.4"/><path d="M64.0,111.0 L62.8,111.2 L61.5,110.2 L60.5,106.6 L60.9,104.6 L61.6,103.8 L62.6,103.5 L64.0,103.6 L64.6,104.0 L64.9,104.6 L65.1,105.8 L65.0,109.0 L64.6,110.6 L64.0,111.0"/><path d="M63.6,110.8 L62.8,110.9 L61.6,110.0 L60.7,106.4 L61.0,105.0 L61.4,104.3 L62.0,103.8 L62.8,103.6 L63.8,103.8 L64.4,104.2 L64.9,105.8 L64.6,110.0 L64.2,110.6 L63.6,110.8"/><path d="M63.4,110.6 L62.8,110.5 L61.8,109.8 L60.9,106.4 L61.7,104.4 L62.8,103.8 L63.6,103.9 L64.2,104.3 L64.7,105.8 L64.4,109.8 L64.0,110.4 L63.4,110.6"/><path d="M63.6,110.3 L63.0,110.2 L62.2,109.6 L61.1,106.6 L61.7,104.8 L62.6,104.1 L63.4,104.2 L64.0,104.5 L64.4,105.6 L64.3,109.4 L64.0,110.0 L63.6,110.3"/><path d="M63.8,109.8 L63.2,109.9 L62.6,109.4 L61.4,106.6 L62.0,105.0 L62.6,104.4 L63.6,104.6 L64.1,105.4 L64.1,108.8 L63.8,109.8"/><path d="M63.6,109.4 L63.0,109.2 L61.9,107.2 L61.9,106.4 L62.3,105.2 L62.8,104.7 L63.6,105.0 L63.9,105.6 L63.8,108.8 L63.6,109.4"/><path d="M63.4,108.4 L62.6,106.6 L62.7,105.6 L63.0,105.2 L63.6,105.4 L63.7,105.8 L63.4,108.4"/></g>
<g fill="none" stroke="#2a2a2a" stroke-width="0.42" stroke-opacity="1.0"><path d="M93.8,130.7 L92.4,130.7 L91.0,130.4 L89.9,129.0 L89.5,127.8 L89.7,122.8 L89.3,119.4 L89.1,111.8 L89.7,106.2 L90.1,105.2 L94.2,102.4 L98.4,102.0 L98.7,102.4 L99.2,107.4 L99.6,108.0 L100.0,106.2 L104.6,102.7 L110.0,100.9 L114.4,100.0 L117.2,98.4 L121.0,98.2 L125.2,98.9 L126.8,102.0 L126.7,106.4 L124.2,110.2 L120.5,112.0 L117.6,114.4 L116.4,117.0 L116.4,117.4 L117.5,118.0 L117.8,118.4 L116.6,121.2 L111.8,123.6 L107.4,124.7 L104.4,125.0 L97.6,127.0 L96.9,127.6 L95.4,129.8 L93.8,130.7"/><path d="M93.8,130.1 L92.2,130.2 L91.2,129.8 L90.5,128.8 L90.1,127.4 L90.1,126.0 L91.1,122.8 L90.8,119.0 L90.5,111.8 L91.2,106.6 L91.5,106.0 L94.8,103.8 L96.8,103.6 L97.2,103.8 L97.4,104.4 L98.1,112.2 L98.8,113.6 L99.4,114.0 L100.3,112.2 L100.5,106.6 L104.4,103.3 L110.2,101.5 L113.4,100.8 L117.2,98.7 L121.0,98.4 L125.0,99.0 L126.6,102.0 L126.5,106.4 L124.0,110.1 L119.3,112.2 L117.2,114.0 L115.8,117.0 L115.9,117.6 L116.7,118.4 L115.8,120.0 L114.0,121.6 L113.2,121.7 L111.4,122.9 L107.6,124.2 L102.4,124.0 L97.8,125.3 L96.8,126.1 L95.4,128.9 L93.8,130.1"/><path d="M93.8,129.7 L92.4,129.8 L91.4,129.4 L90.7,128.4 L90.5,127.2 L91.0,125.5 L93.2,123.6 L93.7,122.6 L93.1,112.2 L93.6,108.4 L94.0,107.5 L94.6,107.1 L95.0,107.4 L95.5,112.4 L96.0,114.0 L99.6,119.5 L100.2,120.0 L100.5,118.8 L100.6,114.0 L100.9,112.8 L100.7,111.6 L100.9,110.4 L100.8,109.0 L101.1,107.0 L104.6,103.7 L110.2,102.0 L113.4,101.4 L117.2,98.8 L121.2,98.5 L125.0,99.2 L126.5,102.0 L126.3,106.4 L124.0,109.9 L120.2,111.6 L118.8,111.9 L116.8,113.6 L116.0,115.8 L115.3,117.0 L115.3,119.4 L114.4,120.0 L114.0,121.0 L113.0,121.1 L111.4,122.3 L107.2,123.8 L103.4,123.4 L101.4,121.9 L100.8,121.7 L96.0,123.1 L95.1,124.0 L95.7,126.4 L95.5,127.8 L94.9,128.8 L93.8,129.7"/><path d="M107.6,123.2 L106.8,123.3 L103.6,122.9 L102.3,121.6 L101.4,120.2 L101.1,117.8 L101.5,113.2 L101.0,111.6 L101.4,110.2 L101.1,109.0 L101.7,107.0 L104.1,105.0 L105.0,104.0 L107.2,103.6 L110.2,102.4 L113.4,101.9 L114.3,100.8 L117.2,99.0 L121.2,98.7 L124.8,99.2 L126.3,102.0 L126.3,105.8 L126.1,106.6 L124.3,109.4 L123.6,110.0 L120.2,111.5 L118.4,111.6 L117.0,112.6 L116.0,114.0 L115.6,115.8 L114.8,116.8 L114.4,118.4 L114.4,119.2 L113.9,119.6 L113.6,120.3 L113.0,120.4 L111.2,121.8 L107.6,123.2"/><path d="M93.2,129.4 L92.2,129.3 L91.6,129.0 L91.1,128.2 L90.9,127.2 L91.1,126.4 L91.6,125.6 L92.4,125.1 L93.4,124.8 L94.0,125.0 L94.7,125.6 L95.1,126.4 L95.2,127.2 L94.6,128.7 L93.9,129.2 L93.2,129.4"/><path d="M107.4,122.6 L104.8,122.4 L103.8,122.1 L103.0,121.0 L101.9,118.2 L102.5,115.6 L102.2,112.4 L101.4,111.6 L102.2,110.6 L102.4,107.4 L105.6,104.9 L109.2,103.7 L110.2,102.9 L112.0,102.9 L113.6,102.6 L114.4,101.0 L117.2,99.2 L121.2,98.9 L124.7,99.4 L126.1,102.0 L126.2,105.8 L126.0,106.4 L124.1,109.4 L123.6,109.8 L120.2,111.3 L117.8,111.3 L116.6,112.0 L115.4,113.4 L114.9,115.4 L114.1,116.2 L113.4,118.4 L112.2,120.2 L111.0,121.2 L107.4,122.6"/><path d="M93.6,128.8 L92.2,128.8 L91.5,127.8 L91.6,126.6 L92.8,125.7 L93.8,125.9 L94.5,126.8 L94.4,128.0 L93.6,128.8"/><path d="M107.6,121.2 L106.6,121.4 L105.1,121.0 L104.1,119.4 L103.4,118.8 L103.5,118.4 L104.1,117.8 L103.8,117.2 L104.0,116.2 L103.3,114.8 L103.2,113.6 L103.6,111.6 L103.6,108.6 L103.8,108.0 L107.0,105.4 L108.6,105.3 L113.6,104.0 L114.0,103.4 L114.6,101.2 L117.4,99.5 L121.4,99.2 L124.5,99.8 L125.9,102.2 L125.9,105.6 L125.6,106.4 L123.8,109.2 L123.2,109.7 L120.0,111.0 L116.4,110.7 L115.8,110.9 L114.4,112.4 L113.8,113.8 L113.7,115.0 L112.6,116.2 L111.8,118.6 L110.6,119.9 L107.6,121.2"/><path d="M107.0,119.8 L105.8,119.5 L105.2,118.4 L104.9,110.8 L104.5,110.0 L105.2,108.2 L106.6,107.4 L113.6,105.3 L114.0,104.7 L114.9,101.4 L117.4,99.8 L121.4,99.6 L124.4,100.2 L125.5,102.2 L125.6,105.6 L123.6,109.0 L119.8,110.7 L116.8,110.3 L115.6,109.7 L115.1,109.8 L113.6,111.4 L113.2,113.0 L112.6,114.0 L112.5,114.8 L111.0,116.0 L110.2,117.6 L110.0,118.8 L108.8,118.9 L107.0,119.8"/><path d="M107.0,118.1 L106.2,118.0 L106.0,117.6 L106.4,116.2 L106.1,112.8 L106.1,109.2 L106.3,108.8 L108.8,107.9 L109.6,107.3 L110.6,107.3 L113.6,106.6 L114.2,105.4 L115.2,101.7 L117.4,100.2 L121.4,99.9 L123.6,100.3 L124.2,100.6 L125.2,102.4 L125.2,105.6 L123.3,108.8 L119.6,110.3 L117.0,110.0 L115.2,108.8 L114.6,108.7 L113.8,109.3 L112.0,111.8 L111.2,113.2 L111.0,114.4 L110.2,115.1 L108.6,117.1 L107.0,118.1"/><path d="M120.2,109.9 L119.4,110.0 L117.0,109.6 L114.3,107.6 L114.2,106.6 L115.4,102.2 L116.0,101.5 L118.0,100.4 L121.2,100.3 L123.6,100.7 L124.0,101.0 L124.8,102.4 L124.8,105.8 L123.0,108.6 L120.2,109.9"/><path d="M108.4,115.9 L107.6,115.9 L107.1,115.2 L107.4,114.2 L107.4,110.0 L108.6,109.1 L112.0,108.2 L112.9,108.2 L111.6,110.8 L110.2,112.6 L109.3,114.2 L109.0,115.4 L108.4,115.9"/><path d="M120.0,109.2 L117.4,109.0 L115.0,107.2 L114.8,106.4 L116.1,102.6 L116.5,102.0 L118.2,101.1 L121.0,100.9 L123.2,101.3 L124.2,102.7 L124.1,105.6 L122.6,108.0 L120.0,109.2"/><path d="M120.0,108.6 L118.0,108.5 L115.5,106.8 L115.5,106.2 L116.8,102.8 L117.3,102.2 L118.4,101.7 L121.0,101.6 L122.8,101.8 L123.3,102.2 L123.6,103.0 L123.6,105.4 L122.2,107.6 L120.0,108.6"/><path d="M119.6,108.0 L118.2,107.8 L116.4,106.4 L117.5,103.0 L118.4,102.4 L120.0,102.2 L122.6,102.5 L123.0,103.4 L123.0,104.8 L122.8,105.5 L121.6,107.2 L119.6,108.0"/><path d="M120.0,107.3 L118.8,107.2 L117.4,106.2 L117.4,105.6 L118.1,103.6 L118.8,103.0 L120.6,102.8 L121.9,103.0 L122.4,103.6 L122.2,105.2 L121.3,106.6 L120.0,107.3"/><path d="M119.8,106.6 L119.0,106.4 L118.3,105.8 L118.8,104.1 L119.4,103.6 L121.3,103.6 L121.7,104.2 L121.6,105.0 L120.8,106.2 L119.8,106.6"/><path d="M120.0,105.8 L119.4,105.6 L119.4,104.8 L119.8,104.3 L120.6,104.2 L120.9,104.4 L120.8,105.0 L120.0,105.8"/></g>
<g fill="#f2f2f2" filter="url(#b3)"><circle cx="110.3" cy="50.7" r="0.9"/><circle cx="116.2" cy="51.1" r="0.8"/><circle cx="120.6" cy="104.9" r="1.0"/><ellipse cx="62.2" cy="53.2" rx="1.3" ry="3.0"/><ellipse cx="64" cy="108" rx="0.5" ry="2.4"/></g>
<rect x="31.40" y="37.20" width="41.20" height="42.00" fill="none" stroke="#8a8a8a" stroke-width="0.9"/>
<line x1="32.4" y1="80.2" x2="71.6" y2="80.2" stroke="#9a9a9a" stroke-width="0.9" stroke-dasharray="0.7 1.3"/>
<line x1="30.4" y1="38.2" x2="30.4" y2="78.2" stroke="#aaa" stroke-width="0.9" stroke-dasharray="0.7 2.2"/>
<line x1="88.6" y1="80.0" x2="129.3" y2="80.0" stroke="#9a9a9a" stroke-width="0.9" stroke-dasharray="0.7 1.3"/>
<line x1="86.6" y1="38.2" x2="86.6" y2="78.0" stroke="#aaa" stroke-width="0.9" stroke-dasharray="0.7 2.2"/>
<line x1="32.4" y1="135.7" x2="72.5" y2="135.7" stroke="#9a9a9a" stroke-width="0.9" stroke-dasharray="0.7 1.3"/>
<line x1="30.4" y1="93.2" x2="30.4" y2="133.7" stroke="#aaa" stroke-width="0.9" stroke-dasharray="0.7 2.2"/>
<line x1="88.6" y1="135.4" x2="129.1" y2="135.4" stroke="#9a9a9a" stroke-width="0.9" stroke-dasharray="0.7 1.3"/>
<line x1="86.6" y1="93.2" x2="86.6" y2="133.4" stroke="#aaa" stroke-width="0.9" stroke-dasharray="0.7 2.2"/>
<rect x="87.60" y="37.20" width="42.70" height="41.80" fill="none" stroke="#8a8a8a" stroke-width="0.9"/>
<rect x="31.40" y="92.20" width="42.10" height="42.50" fill="none" stroke="#8a8a8a" stroke-width="0.9"/>
<rect x="87.60" y="92.20" width="42.50" height="42.20" fill="none" stroke="#8a8a8a" stroke-width="0.9"/>
<text transform="translate(32.50,42.90) translate(0.00,0) scale(0.8878,1)" font-size="5.80" fill="#231f20" stroke="#231f20" stroke-width="0.15"><tspan>7.18%</tspan></text>
<text transform="translate(58.00,67.10) translate(0.00,0) scale(0.8878,1)" font-size="5.80" fill="#231f20" stroke="#231f20" stroke-width="0.15"><tspan>42.4%</tspan></text>
<text transform="translate(41.50,71.50) translate(0.00,0) scale(0.8878,1)" font-size="5.80" fill="#231f20" stroke="#231f20" stroke-width="0.15"><tspan>40.4%</tspan></text>
<text transform="translate(88.60,42.90) translate(0.00,0) scale(0.8878,1)" font-size="5.80" fill="#231f20" stroke="#231f20" stroke-width="0.15"><tspan>9.44%</tspan></text>
<text transform="translate(115.00,71.50) translate(0.00,0) scale(0.8878,1)" font-size="5.80" fill="#231f20" stroke="#231f20" stroke-width="0.15"><tspan>8.55%</tspan></text>
<text transform="translate(100.50,77.20) translate(0.00,0) scale(0.8878,1)" font-size="5.80" fill="#231f20" stroke="#231f20" stroke-width="0.15"><tspan>74.9%</tspan></text>
<text transform="translate(32.60,98.20) translate(0.00,0) scale(0.8878,1)" font-size="5.80" fill="#231f20" stroke="#231f20" stroke-width="0.15"><tspan>4.77%</tspan></text>
<text transform="translate(58.00,123.90) translate(0.00,0) scale(0.8878,1)" font-size="5.80" fill="#231f20" stroke="#231f20" stroke-width="0.15"><tspan>82.1%</tspan></text>
<text transform="translate(41.50,129.10) translate(0.00,0) scale(0.8878,1)" font-size="5.80" fill="#231f20" stroke="#231f20" stroke-width="0.15"><tspan>10.2%</tspan></text>
<text transform="translate(88.60,97.90) translate(0.00,0) scale(0.8878,1)" font-size="5.80" fill="#231f20" stroke="#231f20" stroke-width="0.15"><tspan>6.23%</tspan></text>
<text transform="translate(115.00,126.30) translate(0.00,0) scale(0.8878,1)" font-size="5.80" fill="#231f20" stroke="#231f20" stroke-width="0.15"><tspan>38.5%</tspan></text>
<text transform="translate(100.00,132.50) translate(0.00,0) scale(0.8878,1)" font-size="5.80" fill="#231f20" stroke="#231f20" stroke-width="0.15"><tspan>41.2%</tspan></text>
<text transform="translate(28.00,42.80) translate(-6.70,0)" font-size="4.60" fill="#231f20" stroke="#231f20" stroke-width="0.1"><tspan>10</tspan><tspan font-size="2.85" dy="-1.93">5</tspan></text>
<text transform="translate(28.00,52.60) translate(-6.70,0)" font-size="4.60" fill="#231f20" stroke="#231f20" stroke-width="0.1"><tspan>10</tspan><tspan font-size="2.85" dy="-1.93">4</tspan></text>
<text transform="translate(28.00,62.80) translate(-6.70,0)" font-size="4.60" fill="#231f20" stroke="#231f20" stroke-width="0.1"><tspan>10</tspan><tspan font-size="2.85" dy="-1.93">3</tspan></text>
<text transform="translate(28.00,71.30) translate(-6.70,0)" font-size="4.60" fill="#231f20" stroke="#231f20" stroke-width="0.1"><tspan>10</tspan><tspan font-size="2.85" dy="-1.93">2</tspan></text>
<text transform="translate(28.00,77.70) translate(-2.56,0)" font-size="4.60" fill="#231f20" stroke="#231f20" stroke-width="0.1"><tspan>0</tspan></text>
<text transform="translate(85.60,42.80) translate(-6.70,0)" font-size="4.60" fill="#231f20" stroke="#231f20" stroke-width="0.1"><tspan>10</tspan><tspan font-size="2.85" dy="-1.93">5</tspan></text>
<text transform="translate(85.60,52.60) translate(-6.70,0)" font-size="4.60" fill="#231f20" stroke="#231f20" stroke-width="0.1"><tspan>10</tspan><tspan font-size="2.85" dy="-1.93">4</tspan></text>
<text transform="translate(85.60,62.80) translate(-6.70,0)" font-size="4.60" fill="#231f20" stroke="#231f20" stroke-width="0.1"><tspan>10</tspan><tspan font-size="2.85" dy="-1.93">3</tspan></text>
<text transform="translate(85.60,71.30) translate(-6.70,0)" font-size="4.60" fill="#231f20" stroke="#231f20" stroke-width="0.1"><tspan>10</tspan><tspan font-size="2.85" dy="-1.93">2</tspan></text>
<text transform="translate(85.60,77.70) translate(-2.56,0)" font-size="4.60" fill="#231f20" stroke="#231f20" stroke-width="0.1"><tspan>0</tspan></text>
<text transform="translate(28.00,98.00) translate(-6.70,0)" font-size="4.60" fill="#231f20" stroke="#231f20" stroke-width="0.1"><tspan>10</tspan><tspan font-size="2.85" dy="-1.93">5</tspan></text>
<text transform="translate(28.00,107.80) translate(-6.70,0)" font-size="4.60" fill="#231f20" stroke="#231f20" stroke-width="0.1"><tspan>10</tspan><tspan font-size="2.85" dy="-1.93">4</tspan></text>
<text transform="translate(28.00,118.00) translate(-6.70,0)" font-size="4.60" fill="#231f20" stroke="#231f20" stroke-width="0.1"><tspan>10</tspan><tspan font-size="2.85" dy="-1.93">3</tspan></text>
<text transform="translate(28.00,126.50) translate(-6.70,0)" font-size="4.60" fill="#231f20" stroke="#231f20" stroke-width="0.1"><tspan>10</tspan><tspan font-size="2.85" dy="-1.93">2</tspan></text>
<text transform="translate(28.00,132.90) translate(-2.56,0)" font-size="4.60" fill="#231f20" stroke="#231f20" stroke-width="0.1"><tspan>0</tspan></text>
<text transform="translate(85.60,98.00) translate(-6.70,0)" font-size="4.60" fill="#231f20" stroke="#231f20" stroke-width="0.1"><tspan>10</tspan><tspan font-size="2.85" dy="-1.93">5</tspan></text>
<text transform="translate(85.60,107.80) translate(-6.70,0)" font-size="4.60" fill="#231f20" stroke="#231f20" stroke-width="0.1"><tspan>10</tspan><tspan font-size="2.85" dy="-1.93">4</tspan></text>
<text transform="translate(85.60,118.00) translate(-6.70,0)" font-size="4.60" fill="#231f20" stroke="#231f20" stroke-width="0.1"><tspan>10</tspan><tspan font-size="2.85" dy="-1.93">3</tspan></text>
<text transform="translate(85.60,126.50) translate(-6.70,0)" font-size="4.60" fill="#231f20" stroke="#231f20" stroke-width="0.1"><tspan>10</tspan><tspan font-size="2.85" dy="-1.93">2</tspan></text>
<text transform="translate(85.60,132.90) translate(-2.56,0)" font-size="4.60" fill="#231f20" stroke="#231f20" stroke-width="0.1"><tspan>0</tspan></text>
<text transform="translate(32.80,85.50) translate(0.00,0)" font-size="4.60" fill="#231f20" stroke="#231f20" stroke-width="0.1"><tspan>0</tspan></text>
<text transform="translate(36.50,85.50) translate(0.00,0)" font-size="4.60" fill="#231f20" stroke="#231f20" stroke-width="0.1"><tspan>10</tspan><tspan font-size="2.85" dy="-1.93">2</tspan></text>
<text transform="translate(46.30,85.50) translate(0.00,0)" font-size="4.60" fill="#231f20" stroke="#231f20" stroke-width="0.1"><tspan>10</tspan><tspan font-size="2.85" dy="-1.93">3</tspan></text>
<text transform="translate(55.80,85.50) translate(0.00,0)" font-size="4.60" fill="#231f20" stroke="#231f20" stroke-width="0.1"><tspan>10</tspan><tspan font-size="2.85" dy="-1.93">4</tspan></text>
<text transform="translate(65.00,85.50) translate(0.00,0)" font-size="4.60" fill="#231f20" stroke="#231f20" stroke-width="0.1"><tspan>10</tspan><tspan font-size="2.85" dy="-1.93">5</tspan></text>
<text transform="translate(89.90,85.50) translate(0.00,0)" font-size="4.60" fill="#231f20" stroke="#231f20" stroke-width="0.1"><tspan>0</tspan></text>
<text transform="translate(92.40,85.50) translate(0.00,0)" font-size="4.60" fill="#231f20" stroke="#231f20" stroke-width="0.1"><tspan>10</tspan><tspan font-size="2.85" dy="-1.93">2</tspan></text>
<text transform="translate(103.00,85.50) translate(0.00,0)" font-size="4.60" fill="#231f20" stroke="#231f20" stroke-width="0.1"><tspan>10</tspan><tspan font-size="2.85" dy="-1.93">3</tspan></text>
<text transform="translate(112.50,85.50) translate(0.00,0)" font-size="4.60" fill="#231f20" stroke="#231f20" stroke-width="0.1"><tspan>10</tspan><tspan font-size="2.85" dy="-1.93">4</tspan></text>
<text transform="translate(122.50,85.50) translate(0.00,0)" font-size="4.60" fill="#231f20" stroke="#231f20" stroke-width="0.1"><tspan>10</tspan><tspan font-size="2.85" dy="-1.93">5</tspan></text>
<text transform="translate(32.80,140.70) translate(0.00,0)" font-size="4.60" fill="#231f20" stroke="#231f20" stroke-width="0.1"><tspan>0</tspan></text>
<text transform="translate(36.50,140.70) translate(0.00,0)" font-size="4.60" fill="#231f20" stroke="#231f20" stroke-width="0.1"><tspan>10</tspan><tspan font-size="2.85" dy="-1.93">2</tspan></text>
<text transform="translate(46.30,140.70) translate(0.00,0)" font-size="4.60" fill="#231f20" stroke="#231f20" stroke-width="0.1"><tspan>10</tspan><tspan font-size="2.85" dy="-1.93">3</tspan></text>
<text transform="translate(55.80,140.70) translate(0.00,0)" font-size="4.60" fill="#231f20" stroke="#231f20" stroke-width="0.1"><tspan>10</tspan><tspan font-size="2.85" dy="-1.93">4</tspan></text>
<text transform="translate(65.00,140.70) translate(0.00,0)" font-size="4.60" fill="#231f20" stroke="#231f20" stroke-width="0.1"><tspan>10</tspan><tspan font-size="2.85" dy="-1.93">5</tspan></text>
<text transform="translate(89.90,140.70) translate(0.00,0)" font-size="4.60" fill="#231f20" stroke="#231f20" stroke-width="0.1"><tspan>0</tspan></text>
<text transform="translate(92.40,140.70) translate(0.00,0)" font-size="4.60" fill="#231f20" stroke="#231f20" stroke-width="0.1"><tspan>10</tspan><tspan font-size="2.85" dy="-1.93">2</tspan></text>
<text transform="translate(103.00,140.70) translate(0.00,0)" font-size="4.60" fill="#231f20" stroke="#231f20" stroke-width="0.1"><tspan>10</tspan><tspan font-size="2.85" dy="-1.93">3</tspan></text>
<text transform="translate(112.50,140.70) translate(0.00,0)" font-size="4.60" fill="#231f20" stroke="#231f20" stroke-width="0.1"><tspan>10</tspan><tspan font-size="2.85" dy="-1.93">4</tspan></text>
<text transform="translate(122.50,140.70) translate(0.00,0)" font-size="4.60" fill="#231f20" stroke="#231f20" stroke-width="0.1"><tspan>10</tspan><tspan font-size="2.85" dy="-1.93">5</tspan></text>
<line x1="12.90" y1="44.00" x2="12.90" y2="109.00" stroke="#231f20" stroke-width="1.0"/>
<path d="M12.9,40.5 L11.1,44.8 L14.7,44.8 Z" fill="#231f20"/>
<text transform="translate(16.30,122.20) rotate(-90) translate(-13.00,0) scale(0.8557,1)" font-size="10.00" fill="#231f20" stroke="#231f20" stroke-width="0.18"><tspan>CD11b</tspan></text>
<text transform="translate(31.40,152.40) translate(0.00,0) scale(0.7801,1)" font-size="10.00" fill="#231f20" stroke="#231f20" stroke-width="0.18"><tspan>Gr-1</tspan></text>
<line x1="47.50" y1="149.20" x2="127.00" y2="149.20" stroke="#231f20" stroke-width="1.0"/>
<path d="M131.0,149.2 L126.6,147.4 L126.6,151.0 Z" fill="#231f20"/>
<text transform="translate(46.60,31.40) translate(0.00,0) scale(0.8745,1)" font-size="9.00" fill="#231f20" stroke="#231f20" stroke-width="0.18"><tspan>PB</tspan></text>
<text transform="translate(102.80,31.70) translate(0.00,0) scale(0.9926,1)" font-size="9.00" fill="#231f20" stroke="#231f20" stroke-width="0.18"><tspan>BM</tspan></text>
<text transform="translate(134.30,60.00) translate(0.00,0) scale(0.9453,1)" font-size="8.50" fill="#231f20" stroke="#231f20" stroke-width="0.18"><tspan>Control</tspan></text>
<text transform="translate(154.80,115.90) translate(-17.85,0) scale(0.9427,1)" font-size="8.50" fill="#231f20" stroke="#231f20" stroke-width="0.18"><tspan>Vav-iCre</tspan><tspan font-size="5.27" dy="-3.57">+</tspan><tspan dy="3.57">,</tspan></text>
<text transform="translate(155.10,124.30) translate(-13.90,0) scale(0.8617,1)" font-size="8.50" fill="#231f20" stroke="#231f20" stroke-width="0.18"><tspan>NCoR1</tspan><tspan font-size="5.27" dy="-3.57">f/f</tspan></text>
<rect x="0" y="0" width="1" height="462" fill="#484848"/>
<rect x="1" y="0" width="1" height="462" fill="#9a9a9a"/>
<rect x="0" y="0" width="520" height="1" fill="#000"/>
<rect x="518" y="1" width="1" height="460" fill="#c4c4c4"/>
<rect x="0" y="460" width="519" height="1" fill="#dadada"/>
<rect x="519" y="0" width="1" height="462" fill="#000"/>
<rect x="0" y="461" width="520" height="1" fill="#000"/>
</svg></body></html>
